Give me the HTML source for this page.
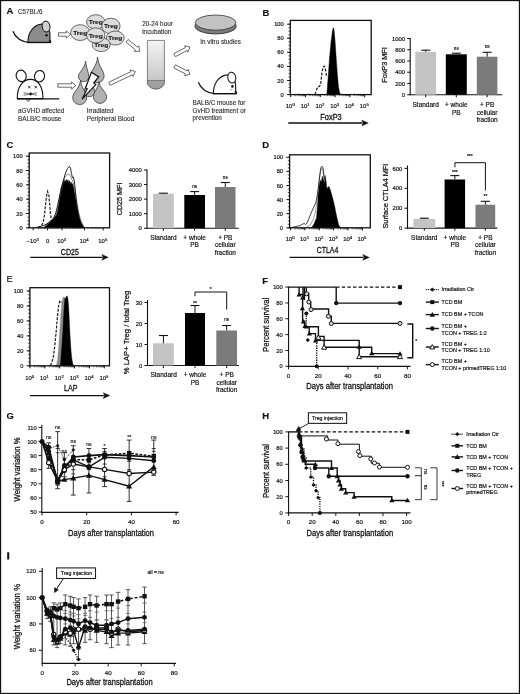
<!DOCTYPE html>
<html><head><meta charset="utf-8"><style>
html,body{margin:0;padding:0;background:#fff;}
svg{display:block;font-family:"Liberation Sans", sans-serif;will-change:transform;}
</style></head><body>
<svg width="520" height="694" viewBox="0 0 520 694" font-family='"Liberation Sans", sans-serif'>
<rect x="0" y="0" width="520" height="694" fill="#fff"/>
<g transform="translate(6.60,14.20) scale(0.97,1)"><text x="0" y="0" font-size="9.8" font-weight="bold" fill="#111" stroke="#111" stroke-width="0.15">A</text></g>
<text x="18.00" y="14.00" font-size="6.4" text-anchor="start" fill="#2e2e2e" stroke="#2e2e2e" stroke-width="0.12" textLength="24.5" lengthAdjust="spacingAndGlyphs" >C57BL/6</text>
<path d="M12.9,31.3 C15,36.5 19,41.5 29.5,42.6" fill="none" stroke="#111" stroke-width="1.3" />
<path d="M28.0,42.4 C27.8,33 33,25.5 40.5,24.2 C45.5,23.6 49.6,27.5 49.9,33 L50.0,42.4 Z" fill="#8c8c8c" stroke="#111" stroke-width="1.1" />
<ellipse cx="46.1" cy="26.6" rx="3.9" ry="5.4" fill="#d0d0d0" stroke="#111" stroke-width="1.0" transform="rotate(-10 46.1 26.6)"/>
<circle cx="46.5" cy="35.2" r="1.3" fill="#111"/>
<path d="M49.2,40.2 L51.2,41.2 L50.2,43.0 Z" fill="#111" stroke="#111" stroke-width="0.7" />
<line x1="27.60" y1="42.60" x2="51.00" y2="42.60" stroke="#111" stroke-width="1.1" stroke-linecap="butt"/>
<path d="M58.50,36.20 L66.30,36.20 L66.30,38.10 L70.50,34.50 L66.30,30.90 L66.30,32.80 L58.50,32.80 Z" fill="#fff" stroke="#444" stroke-width="0.8" />
<path d="M57.80,87.20 L71.60,87.20 L71.60,89.10 L75.80,85.50 L71.60,81.90 L71.60,83.80 L57.80,83.80 Z" fill="#fff" stroke="#444" stroke-width="0.8" />
<path d="M125.93,42.12 L135.47,49.87 L134.27,51.35 L139.80,51.20 L138.81,45.76 L137.61,47.23 L128.07,39.48 Z" fill="#fff" stroke="#444" stroke-width="0.8" />
<path d="M110.23,85.33 L132.35,74.75 L133.17,76.46 L135.40,71.40 L130.06,69.97 L130.88,71.68 L108.77,82.27 Z" fill="#fff" stroke="#444" stroke-width="0.8" />
<path d="M175.40,56.70 L187.09,50.47 L187.98,52.15 L190.00,47.00 L184.60,45.80 L185.49,47.47 L173.80,53.70 Z" fill="#fff" stroke="#444" stroke-width="0.8" />
<path d="M173.81,67.80 L185.49,73.95 L184.61,75.63 L190.00,74.40 L187.96,69.26 L187.07,70.94 L175.39,64.80 Z" fill="#fff" stroke="#444" stroke-width="0.8" />
<ellipse cx="80.2" cy="32.6" rx="9.6" ry="7.9" fill="#dcdcdc" stroke="#444" stroke-width="0.8"/>
<text x="80.20" y="34.70" font-size="6.0" text-anchor="middle" fill="#222" stroke="#222" stroke-width="0.18" font-weight="bold" textLength="14" lengthAdjust="spacingAndGlyphs" >Treg</text>
<ellipse cx="95.8" cy="21.9" rx="9.2" ry="7.2" fill="#dcdcdc" stroke="#444" stroke-width="0.8"/>
<text x="95.80" y="24.00" font-size="6.0" text-anchor="middle" fill="#222" stroke="#222" stroke-width="0.18" font-weight="bold" textLength="14" lengthAdjust="spacingAndGlyphs" >Treg</text>
<ellipse cx="110.9" cy="26.0" rx="9.2" ry="7.8" fill="#dcdcdc" stroke="#444" stroke-width="0.8"/>
<text x="110.90" y="28.10" font-size="6.0" text-anchor="middle" fill="#222" stroke="#222" stroke-width="0.18" font-weight="bold" textLength="14" lengthAdjust="spacingAndGlyphs" >Treg</text>
<ellipse cx="115.3" cy="38.0" rx="9.0" ry="7.0" fill="#dcdcdc" stroke="#444" stroke-width="0.8"/>
<text x="115.30" y="40.10" font-size="6.0" text-anchor="middle" fill="#222" stroke="#222" stroke-width="0.18" font-weight="bold" textLength="14" lengthAdjust="spacingAndGlyphs" >Treg</text>
<ellipse cx="101.2" cy="44.6" rx="9.0" ry="7.0" fill="#dcdcdc" stroke="#444" stroke-width="0.8"/>
<text x="101.20" y="46.70" font-size="6.0" text-anchor="middle" fill="#222" stroke="#222" stroke-width="0.18" font-weight="bold" textLength="14" lengthAdjust="spacingAndGlyphs" >Treg</text>
<ellipse cx="95.7" cy="35.4" rx="9.2" ry="7.6" fill="#dcdcdc" stroke="#444" stroke-width="0.8"/>
<text x="95.70" y="37.50" font-size="6.0" text-anchor="middle" fill="#222" stroke="#222" stroke-width="0.18" font-weight="bold" textLength="14" lengthAdjust="spacingAndGlyphs" >Treg</text>
<path d="M89.50,76.00 C89.90,82.97 94.70,87.60 94.70,91.50 A5.20,5.20 0 0 1 84.30,91.50 C84.30,87.60 89.10,82.97 89.50,76.00 Z" fill="#b2b2b2" stroke="#3a3a3a" stroke-width="0.8" />
<path d="M85.60,61.00 C86.00,67.97 88.80,72.60 88.80,76.50 A5.20,5.20 0 0 1 78.40,76.50 C78.40,72.60 85.20,67.97 85.60,61.00 Z" fill="#b2b2b2" stroke="#3a3a3a" stroke-width="0.8" />
<path d="M97.60,57.10 C98.00,65.61 104.10,70.90 104.10,76.00 A6.80,6.80 0 0 1 90.50,76.00 C90.50,70.90 97.20,65.61 97.60,57.10 Z" fill="#b2b2b2" stroke="#3a3a3a" stroke-width="0.8" />
<path d="M80.60,80.00 C81.00,87.92 86.70,92.35 86.70,97.60 A7.00,7.00 0 0 1 72.70,97.60 C72.70,92.35 80.20,87.92 80.60,80.00 Z" fill="#b2b2b2" stroke="#3a3a3a" stroke-width="0.8" />
<path d="M99.00,81.50 C99.40,88.39 106.60,91.85 106.60,96.80 A6.60,6.60 0 0 1 93.40,96.80 C93.40,91.85 98.60,88.39 99.00,81.50 Z" fill="#b2b2b2" stroke="#3a3a3a" stroke-width="0.8" />
<path d="M91.4,72.3 L98.8,77.0 L93.6,83.0 L95.8,84.6 L82.1,99.2 L87.2,88.8 L85.4,88.2 Z" fill="#fff" stroke="#111" stroke-width="1.2" stroke-linejoin="miter"/>
<ellipse cx="21.2" cy="75.9" rx="5.0" ry="5.8" fill="#fff" stroke="#111" stroke-width="1.1" transform="rotate(-15 21.2 75.9)"/>
<ellipse cx="39.5" cy="76.2" rx="5.0" ry="5.8" fill="#fff" stroke="#111" stroke-width="1.1" transform="rotate(15 39.5 76.2)"/>
<path d="M17.3,98.6 C17.0,87 23,79.4 30.5,79.4 C38,79.4 43.2,87 42.9,98.6 Z" fill="#fff" stroke="#111" stroke-width="1.1" />
<line x1="17.00" y1="98.80" x2="59.20" y2="98.80" stroke="#111" stroke-width="1.2" stroke-linecap="butt"/>
<line x1="28.10" y1="85.90" x2="30.50" y2="88.30" stroke="#111" stroke-width="0.8" stroke-linecap="butt"/>
<line x1="30.50" y1="85.90" x2="28.10" y2="88.30" stroke="#111" stroke-width="0.8" stroke-linecap="butt"/>
<line x1="34.60" y1="85.90" x2="37.00" y2="88.30" stroke="#111" stroke-width="0.8" stroke-linecap="butt"/>
<line x1="37.00" y1="85.90" x2="34.60" y2="88.30" stroke="#111" stroke-width="0.8" stroke-linecap="butt"/>
<circle cx="30.6" cy="94.0" r="1.4" fill="#111"/>
<line x1="23.50" y1="92.40" x2="29.40" y2="94.00" stroke="#333" stroke-width="0.5" stroke-linecap="butt"/>
<line x1="31.80" y1="94.00" x2="36.80" y2="92.40" stroke="#333" stroke-width="0.5" stroke-linecap="butt"/>
<line x1="23.50" y1="94.00" x2="29.40" y2="94.00" stroke="#333" stroke-width="0.5" stroke-linecap="butt"/>
<line x1="31.80" y1="94.00" x2="36.80" y2="94.00" stroke="#333" stroke-width="0.5" stroke-linecap="butt"/>
<line x1="23.50" y1="95.60" x2="29.40" y2="94.00" stroke="#333" stroke-width="0.5" stroke-linecap="butt"/>
<line x1="31.80" y1="94.00" x2="36.80" y2="95.60" stroke="#333" stroke-width="0.5" stroke-linecap="butt"/>
<path d="M26.6,99.2 C26.6,101.8 29.8,101.8 29.8,99.2" fill="none" stroke="#111" stroke-width="0.8" />
<text x="18.00" y="113.20" font-size="6.3" text-anchor="start" fill="#2e2e2e" stroke="#2e2e2e" stroke-width="0.12" textLength="46.4" lengthAdjust="spacingAndGlyphs" >aGVHD affected</text>
<text x="18.00" y="120.80" font-size="6.3" text-anchor="start" fill="#2e2e2e" stroke="#2e2e2e" stroke-width="0.12" textLength="43.4" lengthAdjust="spacingAndGlyphs" >BALB/C mouse</text>
<text x="86.70" y="113.20" font-size="6.3" text-anchor="start" fill="#2e2e2e" stroke="#2e2e2e" stroke-width="0.12" textLength="26.8" lengthAdjust="spacingAndGlyphs" >Irradiated</text>
<text x="86.70" y="120.80" font-size="6.3" text-anchor="start" fill="#2e2e2e" stroke="#2e2e2e" stroke-width="0.12" textLength="47.6" lengthAdjust="spacingAndGlyphs" >Peripheral Blood</text>
<defs><linearGradient id="tg" x1="0" y1="0" x2="0" y2="1"><stop offset="0" stop-color="#f4f4f4"/><stop offset="1" stop-color="#bdbdbd"/></linearGradient></defs>
<path d="M147.4,40.4 L164.4,40.4 L164.4,82 A8.5,7 0 0 1 147.4,82 Z" fill="url(#tg)" stroke="#555" stroke-width="0.7" />
<path d="M147.4,80.5 L164.4,80.5 L164.4,82 A8.5,7 0 0 1 147.4,82 Z" fill="#a0a0a0" stroke="#555" stroke-width="0.6" />
<text x="142.20" y="26.10" font-size="6.3" text-anchor="start" fill="#2e2e2e" stroke="#2e2e2e" stroke-width="0.12" textLength="30.6" lengthAdjust="spacingAndGlyphs" >20-24 hour</text>
<text x="142.20" y="33.50" font-size="6.3" text-anchor="start" fill="#2e2e2e" stroke="#2e2e2e" stroke-width="0.12" textLength="29.2" lengthAdjust="spacingAndGlyphs" >incubation</text>
<ellipse cx="215.6" cy="26.2" rx="20.6" ry="7.8" fill="#7a7a7a" stroke="#222" stroke-width="0.8"/>
<ellipse cx="215.6" cy="22.6" rx="20.3" ry="7.6" fill="#c2c2c2" stroke="#333" stroke-width="0.8"/>
<text x="200.20" y="43.60" font-size="6.3" text-anchor="start" fill="#2e2e2e" stroke="#2e2e2e" stroke-width="0.12" textLength="40.8" lengthAdjust="spacingAndGlyphs" >In vitro studies</text>
<path d="M198.3,82.3 C200.5,87.5 204.5,92.5 214.2,93.7" fill="none" stroke="#111" stroke-width="1.2" />
<path d="M213.4,93.6 C213.2,84 218.5,76.5 225.7,75.1 C231,74.3 235.2,78.5 235.5,84 L235.8,93.6 Z" fill="#fff" stroke="#111" stroke-width="1.1" />
<ellipse cx="231.8" cy="77.6" rx="4.0" ry="5.5" fill="#fff" stroke="#111" stroke-width="1.0" transform="rotate(-10 231.8 77.6)"/>
<circle cx="232.4" cy="86.4" r="1.3" fill="#111"/>
<path d="M235.0,91.0 L237.0,92.2 L235.8,94.0 Z" fill="#111" stroke="#111" stroke-width="0.7" />
<line x1="213.00" y1="93.70" x2="237.00" y2="93.70" stroke="#111" stroke-width="1.1" stroke-linecap="butt"/>
<line x1="230.00" y1="89.60" x2="232.50" y2="89.60" stroke="#555" stroke-width="0.5" stroke-linecap="butt"/>
<text x="192.60" y="105.40" font-size="6.3" text-anchor="start" fill="#2e2e2e" stroke="#2e2e2e" stroke-width="0.12" textLength="52.8" lengthAdjust="spacingAndGlyphs" >BALB/C mouse for</text>
<text x="192.60" y="112.80" font-size="6.3" text-anchor="start" fill="#2e2e2e" stroke="#2e2e2e" stroke-width="0.12" textLength="53.2" lengthAdjust="spacingAndGlyphs" >GvHD treatment or</text>
<text x="192.60" y="120.40" font-size="6.3" text-anchor="start" fill="#2e2e2e" stroke="#2e2e2e" stroke-width="0.12" textLength="29.2" lengthAdjust="spacingAndGlyphs" >prevention</text>
<g transform="translate(262.40,15.50) scale(0.97,1)"><text x="0" y="0" font-size="9.8" font-weight="bold" fill="#111" stroke="#111" stroke-width="0.15">B</text></g>
<path d="M315.00,94.40 L316.50,90.00 L317.60,87.20 L319.50,86.20 L320.60,84.50 L322.00,72.00 L323.20,67.00 L324.30,66.20 L325.20,68.00 L326.00,73.00 L326.80,77.00" fill="none" stroke="#1a1a1a" stroke-width="1.2" stroke-dasharray="2.8,1.4"/>
<path d="M326.80,94.50 L327.30,88.00 L328.30,75.00 L329.50,58.00 L331.00,42.00 L332.30,32.00 L333.20,27.60 L334.00,29.00 L335.00,40.00 L336.00,55.00 L337.20,72.00 L338.40,86.00 L339.60,92.50 L341.00,94.50 Z" fill="#000" stroke="#000" stroke-width="0.4" />
<line x1="287.10" y1="94.60" x2="290.30" y2="94.60" stroke="#111" stroke-width="1.0" stroke-linecap="butt"/>
<text x="283.70" y="96.65" font-size="5.7" text-anchor="end" fill="#111" stroke="#111" stroke-width="0.18" >0</text>
<line x1="287.10" y1="80.52" x2="290.30" y2="80.52" stroke="#111" stroke-width="1.0" stroke-linecap="butt"/>
<text x="283.70" y="82.57" font-size="5.7" text-anchor="end" fill="#111" stroke="#111" stroke-width="0.18" >20</text>
<line x1="287.10" y1="66.44" x2="290.30" y2="66.44" stroke="#111" stroke-width="1.0" stroke-linecap="butt"/>
<text x="283.70" y="68.49" font-size="5.7" text-anchor="end" fill="#111" stroke="#111" stroke-width="0.18" >40</text>
<line x1="287.10" y1="52.36" x2="290.30" y2="52.36" stroke="#111" stroke-width="1.0" stroke-linecap="butt"/>
<text x="283.70" y="54.41" font-size="5.7" text-anchor="end" fill="#111" stroke="#111" stroke-width="0.18" >60</text>
<line x1="287.10" y1="38.28" x2="290.30" y2="38.28" stroke="#111" stroke-width="1.0" stroke-linecap="butt"/>
<text x="283.70" y="40.33" font-size="5.7" text-anchor="end" fill="#111" stroke="#111" stroke-width="0.18" >80</text>
<line x1="287.10" y1="24.20" x2="290.30" y2="24.20" stroke="#111" stroke-width="1.0" stroke-linecap="butt"/>
<text x="283.70" y="26.25" font-size="5.7" text-anchor="end" fill="#111" stroke="#111" stroke-width="0.18" >100</text>
<line x1="288.50" y1="94.60" x2="290.30" y2="94.60" stroke="#111" stroke-width="0.7" stroke-linecap="butt"/>
<line x1="288.50" y1="91.08" x2="290.30" y2="91.08" stroke="#111" stroke-width="0.7" stroke-linecap="butt"/>
<line x1="288.50" y1="87.56" x2="290.30" y2="87.56" stroke="#111" stroke-width="0.7" stroke-linecap="butt"/>
<line x1="288.50" y1="84.04" x2="290.30" y2="84.04" stroke="#111" stroke-width="0.7" stroke-linecap="butt"/>
<line x1="288.50" y1="80.52" x2="290.30" y2="80.52" stroke="#111" stroke-width="0.7" stroke-linecap="butt"/>
<line x1="288.50" y1="77.00" x2="290.30" y2="77.00" stroke="#111" stroke-width="0.7" stroke-linecap="butt"/>
<line x1="288.50" y1="73.48" x2="290.30" y2="73.48" stroke="#111" stroke-width="0.7" stroke-linecap="butt"/>
<line x1="288.50" y1="69.96" x2="290.30" y2="69.96" stroke="#111" stroke-width="0.7" stroke-linecap="butt"/>
<line x1="288.50" y1="66.44" x2="290.30" y2="66.44" stroke="#111" stroke-width="0.7" stroke-linecap="butt"/>
<line x1="288.50" y1="62.92" x2="290.30" y2="62.92" stroke="#111" stroke-width="0.7" stroke-linecap="butt"/>
<line x1="288.50" y1="59.40" x2="290.30" y2="59.40" stroke="#111" stroke-width="0.7" stroke-linecap="butt"/>
<line x1="288.50" y1="55.88" x2="290.30" y2="55.88" stroke="#111" stroke-width="0.7" stroke-linecap="butt"/>
<line x1="288.50" y1="52.36" x2="290.30" y2="52.36" stroke="#111" stroke-width="0.7" stroke-linecap="butt"/>
<line x1="288.50" y1="48.84" x2="290.30" y2="48.84" stroke="#111" stroke-width="0.7" stroke-linecap="butt"/>
<line x1="288.50" y1="45.32" x2="290.30" y2="45.32" stroke="#111" stroke-width="0.7" stroke-linecap="butt"/>
<line x1="288.50" y1="41.80" x2="290.30" y2="41.80" stroke="#111" stroke-width="0.7" stroke-linecap="butt"/>
<line x1="288.50" y1="38.28" x2="290.30" y2="38.28" stroke="#111" stroke-width="0.7" stroke-linecap="butt"/>
<line x1="288.50" y1="34.76" x2="290.30" y2="34.76" stroke="#111" stroke-width="0.7" stroke-linecap="butt"/>
<line x1="288.50" y1="31.24" x2="290.30" y2="31.24" stroke="#111" stroke-width="0.7" stroke-linecap="butt"/>
<line x1="288.50" y1="27.72" x2="290.30" y2="27.72" stroke="#111" stroke-width="0.7" stroke-linecap="butt"/>
<line x1="288.50" y1="24.20" x2="290.30" y2="24.20" stroke="#111" stroke-width="0.7" stroke-linecap="butt"/>
<rect x="290.30" y="20.40" width="80.90" height="74.20" fill="none" stroke="#111" stroke-width="1.3"/>
<line x1="290.70" y1="94.60" x2="290.70" y2="97.20" stroke="#111" stroke-width="1.0" stroke-linecap="butt"/>
<text x="290.30" y="108.40" font-size="5.9" text-anchor="middle" fill="#111" stroke="#111" stroke-width="0.18">10<tspan font-size="4.25" dy="-2.2">0</tspan></text>
<line x1="305.50" y1="94.60" x2="305.50" y2="97.20" stroke="#111" stroke-width="1.0" stroke-linecap="butt"/>
<text x="305.10" y="108.40" font-size="5.9" text-anchor="middle" fill="#111" stroke="#111" stroke-width="0.18">10<tspan font-size="4.25" dy="-2.2">1</tspan></text>
<line x1="320.30" y1="94.60" x2="320.30" y2="97.20" stroke="#111" stroke-width="1.0" stroke-linecap="butt"/>
<text x="319.90" y="108.40" font-size="5.9" text-anchor="middle" fill="#111" stroke="#111" stroke-width="0.18">10<tspan font-size="4.25" dy="-2.2">2</tspan></text>
<line x1="335.10" y1="94.60" x2="335.10" y2="97.20" stroke="#111" stroke-width="1.0" stroke-linecap="butt"/>
<text x="334.70" y="108.40" font-size="5.9" text-anchor="middle" fill="#111" stroke="#111" stroke-width="0.18">10<tspan font-size="4.25" dy="-2.2">3</tspan></text>
<line x1="349.90" y1="94.60" x2="349.90" y2="97.20" stroke="#111" stroke-width="1.0" stroke-linecap="butt"/>
<text x="349.50" y="108.40" font-size="5.9" text-anchor="middle" fill="#111" stroke="#111" stroke-width="0.18">10<tspan font-size="4.25" dy="-2.2">4</tspan></text>
<line x1="364.70" y1="94.60" x2="364.70" y2="97.20" stroke="#111" stroke-width="1.0" stroke-linecap="butt"/>
<text x="364.30" y="108.40" font-size="5.9" text-anchor="middle" fill="#111" stroke="#111" stroke-width="0.18">10<tspan font-size="4.25" dy="-2.2">5</tspan></text>
<line x1="295.16" y1="94.60" x2="295.16" y2="96.20" stroke="#111" stroke-width="0.6" stroke-linecap="butt"/>
<line x1="297.76" y1="94.60" x2="297.76" y2="96.20" stroke="#111" stroke-width="0.6" stroke-linecap="butt"/>
<line x1="299.61" y1="94.60" x2="299.61" y2="96.20" stroke="#111" stroke-width="0.6" stroke-linecap="butt"/>
<line x1="301.04" y1="94.60" x2="301.04" y2="96.20" stroke="#111" stroke-width="0.6" stroke-linecap="butt"/>
<line x1="302.22" y1="94.60" x2="302.22" y2="96.20" stroke="#111" stroke-width="0.6" stroke-linecap="butt"/>
<line x1="303.21" y1="94.60" x2="303.21" y2="96.20" stroke="#111" stroke-width="0.6" stroke-linecap="butt"/>
<line x1="304.07" y1="94.60" x2="304.07" y2="96.20" stroke="#111" stroke-width="0.6" stroke-linecap="butt"/>
<line x1="304.82" y1="94.60" x2="304.82" y2="96.20" stroke="#111" stroke-width="0.6" stroke-linecap="butt"/>
<line x1="309.96" y1="94.60" x2="309.96" y2="96.20" stroke="#111" stroke-width="0.6" stroke-linecap="butt"/>
<line x1="312.56" y1="94.60" x2="312.56" y2="96.20" stroke="#111" stroke-width="0.6" stroke-linecap="butt"/>
<line x1="314.41" y1="94.60" x2="314.41" y2="96.20" stroke="#111" stroke-width="0.6" stroke-linecap="butt"/>
<line x1="315.84" y1="94.60" x2="315.84" y2="96.20" stroke="#111" stroke-width="0.6" stroke-linecap="butt"/>
<line x1="317.02" y1="94.60" x2="317.02" y2="96.20" stroke="#111" stroke-width="0.6" stroke-linecap="butt"/>
<line x1="318.01" y1="94.60" x2="318.01" y2="96.20" stroke="#111" stroke-width="0.6" stroke-linecap="butt"/>
<line x1="318.87" y1="94.60" x2="318.87" y2="96.20" stroke="#111" stroke-width="0.6" stroke-linecap="butt"/>
<line x1="319.62" y1="94.60" x2="319.62" y2="96.20" stroke="#111" stroke-width="0.6" stroke-linecap="butt"/>
<line x1="324.76" y1="94.60" x2="324.76" y2="96.20" stroke="#111" stroke-width="0.6" stroke-linecap="butt"/>
<line x1="327.36" y1="94.60" x2="327.36" y2="96.20" stroke="#111" stroke-width="0.6" stroke-linecap="butt"/>
<line x1="329.21" y1="94.60" x2="329.21" y2="96.20" stroke="#111" stroke-width="0.6" stroke-linecap="butt"/>
<line x1="330.64" y1="94.60" x2="330.64" y2="96.20" stroke="#111" stroke-width="0.6" stroke-linecap="butt"/>
<line x1="331.82" y1="94.60" x2="331.82" y2="96.20" stroke="#111" stroke-width="0.6" stroke-linecap="butt"/>
<line x1="332.81" y1="94.60" x2="332.81" y2="96.20" stroke="#111" stroke-width="0.6" stroke-linecap="butt"/>
<line x1="333.67" y1="94.60" x2="333.67" y2="96.20" stroke="#111" stroke-width="0.6" stroke-linecap="butt"/>
<line x1="334.42" y1="94.60" x2="334.42" y2="96.20" stroke="#111" stroke-width="0.6" stroke-linecap="butt"/>
<line x1="339.56" y1="94.60" x2="339.56" y2="96.20" stroke="#111" stroke-width="0.6" stroke-linecap="butt"/>
<line x1="342.16" y1="94.60" x2="342.16" y2="96.20" stroke="#111" stroke-width="0.6" stroke-linecap="butt"/>
<line x1="344.01" y1="94.60" x2="344.01" y2="96.20" stroke="#111" stroke-width="0.6" stroke-linecap="butt"/>
<line x1="345.44" y1="94.60" x2="345.44" y2="96.20" stroke="#111" stroke-width="0.6" stroke-linecap="butt"/>
<line x1="346.62" y1="94.60" x2="346.62" y2="96.20" stroke="#111" stroke-width="0.6" stroke-linecap="butt"/>
<line x1="347.61" y1="94.60" x2="347.61" y2="96.20" stroke="#111" stroke-width="0.6" stroke-linecap="butt"/>
<line x1="348.47" y1="94.60" x2="348.47" y2="96.20" stroke="#111" stroke-width="0.6" stroke-linecap="butt"/>
<line x1="349.22" y1="94.60" x2="349.22" y2="96.20" stroke="#111" stroke-width="0.6" stroke-linecap="butt"/>
<line x1="354.36" y1="94.60" x2="354.36" y2="96.20" stroke="#111" stroke-width="0.6" stroke-linecap="butt"/>
<line x1="356.96" y1="94.60" x2="356.96" y2="96.20" stroke="#111" stroke-width="0.6" stroke-linecap="butt"/>
<line x1="358.81" y1="94.60" x2="358.81" y2="96.20" stroke="#111" stroke-width="0.6" stroke-linecap="butt"/>
<line x1="360.24" y1="94.60" x2="360.24" y2="96.20" stroke="#111" stroke-width="0.6" stroke-linecap="butt"/>
<line x1="361.42" y1="94.60" x2="361.42" y2="96.20" stroke="#111" stroke-width="0.6" stroke-linecap="butt"/>
<line x1="362.41" y1="94.60" x2="362.41" y2="96.20" stroke="#111" stroke-width="0.6" stroke-linecap="butt"/>
<line x1="363.27" y1="94.60" x2="363.27" y2="96.20" stroke="#111" stroke-width="0.6" stroke-linecap="butt"/>
<line x1="364.02" y1="94.60" x2="364.02" y2="96.20" stroke="#111" stroke-width="0.6" stroke-linecap="butt"/>
<text x="331.00" y="119.60" font-size="8.2" text-anchor="middle" fill="#111" stroke="#111" stroke-width="0.26" textLength="21.5" lengthAdjust="spacingAndGlyphs" >FoxP3</text>
<line x1="288.30" y1="123.00" x2="362.30" y2="123.00" stroke="#111" stroke-width="1.3" stroke-linecap="butt"/>
<path d="M368.30,123.00 L361.80,120.10 L363.00,123.00 L361.80,125.90 Z" fill="#111" stroke="#111" stroke-width="0.4" />
<line x1="410.20" y1="38.00" x2="410.20" y2="95.20" stroke="#111" stroke-width="1.1" stroke-linecap="butt"/>
<line x1="409.70" y1="94.70" x2="502.20" y2="94.70" stroke="#111" stroke-width="1.1" stroke-linecap="butt"/>
<line x1="407.20" y1="94.70" x2="410.20" y2="94.70" stroke="#111" stroke-width="1.0" stroke-linecap="butt"/>
<text x="405.00" y="96.80" font-size="5.9" text-anchor="end" fill="#111" stroke="#111" stroke-width="0.18" >0</text>
<line x1="407.20" y1="83.46" x2="410.20" y2="83.46" stroke="#111" stroke-width="1.0" stroke-linecap="butt"/>
<text x="405.00" y="85.56" font-size="5.9" text-anchor="end" fill="#111" stroke="#111" stroke-width="0.18" >200</text>
<line x1="407.20" y1="72.22" x2="410.20" y2="72.22" stroke="#111" stroke-width="1.0" stroke-linecap="butt"/>
<text x="405.00" y="74.32" font-size="5.9" text-anchor="end" fill="#111" stroke="#111" stroke-width="0.18" >400</text>
<line x1="407.20" y1="60.98" x2="410.20" y2="60.98" stroke="#111" stroke-width="1.0" stroke-linecap="butt"/>
<text x="405.00" y="63.08" font-size="5.9" text-anchor="end" fill="#111" stroke="#111" stroke-width="0.18" >600</text>
<line x1="407.20" y1="49.74" x2="410.20" y2="49.74" stroke="#111" stroke-width="1.0" stroke-linecap="butt"/>
<text x="405.00" y="51.84" font-size="5.9" text-anchor="end" fill="#111" stroke="#111" stroke-width="0.18" >800</text>
<line x1="407.20" y1="38.50" x2="410.20" y2="38.50" stroke="#111" stroke-width="1.0" stroke-linecap="butt"/>
<text x="405.00" y="40.60" font-size="5.9" text-anchor="end" fill="#111" stroke="#111" stroke-width="0.18" >1000</text>
<rect x="415.30" y="51.90" width="20.80" height="42.80" fill="#c4c4c4" stroke="none" stroke-width="1"/>
<line x1="425.70" y1="51.90" x2="425.70" y2="50.20" stroke="#111" stroke-width="1.0" stroke-linecap="butt"/>
<line x1="421.20" y1="50.20" x2="430.20" y2="50.20" stroke="#111" stroke-width="1.1" stroke-linecap="butt"/>
<line x1="425.70" y1="94.70" x2="425.70" y2="97.30" stroke="#111" stroke-width="1.0" stroke-linecap="butt"/>
<rect x="445.80" y="54.30" width="21.00" height="40.40" fill="#000" stroke="none" stroke-width="1"/>
<line x1="456.30" y1="54.30" x2="456.30" y2="53.20" stroke="#111" stroke-width="1.0" stroke-linecap="butt"/>
<line x1="451.80" y1="53.20" x2="460.80" y2="53.20" stroke="#111" stroke-width="1.1" stroke-linecap="butt"/>
<line x1="456.30" y1="94.70" x2="456.30" y2="97.30" stroke="#111" stroke-width="1.0" stroke-linecap="butt"/>
<rect x="476.80" y="56.70" width="20.60" height="38.00" fill="#7b7b7b" stroke="none" stroke-width="1"/>
<line x1="487.10" y1="56.70" x2="487.10" y2="52.30" stroke="#111" stroke-width="1.0" stroke-linecap="butt"/>
<line x1="482.60" y1="52.30" x2="491.60" y2="52.30" stroke="#111" stroke-width="1.1" stroke-linecap="butt"/>
<line x1="487.10" y1="94.70" x2="487.10" y2="97.30" stroke="#111" stroke-width="1.0" stroke-linecap="butt"/>
<text x="425.70" y="106.80" font-size="6.5" text-anchor="middle" fill="#111" stroke="#111" stroke-width="0.18" >Standard</text>
<text x="456.30" y="106.80" font-size="6.5" text-anchor="middle" fill="#111" stroke="#111" stroke-width="0.18" >+ whole</text>
<text x="456.30" y="114.50" font-size="6.5" text-anchor="middle" fill="#111" stroke="#111" stroke-width="0.18" >PB</text>
<text x="487.10" y="106.80" font-size="6.5" text-anchor="middle" fill="#111" stroke="#111" stroke-width="0.18" >+ PB</text>
<text x="487.10" y="114.50" font-size="6.5" text-anchor="middle" fill="#111" stroke="#111" stroke-width="0.18" >cellular</text>
<text x="487.10" y="122.00" font-size="6.5" text-anchor="middle" fill="#111" stroke="#111" stroke-width="0.18" >fraction</text>
<text x="386.90" y="65.00" font-size="8.0" text-anchor="middle" fill="#111" stroke="#111" stroke-width="0.26" textLength="35.5" lengthAdjust="spacingAndGlyphs" transform="rotate(-90 386.90 65.00)" >FoxP3 MFI</text>
<text x="456.30" y="49.60" font-size="4.6" text-anchor="middle" fill="#111" stroke="#111" stroke-width="0.18" >ns</text>
<text x="487.10" y="47.60" font-size="4.6" text-anchor="middle" fill="#111" stroke="#111" stroke-width="0.18" >ns</text>
<g transform="translate(6.60,147.70) scale(0.97,1)"><text x="0" y="0" font-size="9.8" font-weight="bold" fill="#111" stroke="#111" stroke-width="0.15">C</text></g>
<path d="M43.50,227.80 L45.00,226.20 L48.00,223.50 L51.30,220.00 L54.00,217.50 L56.30,215.00 L57.50,210.00 L58.80,202.50 L60.00,194.00 L60.80,188.50 L61.60,186.00 L62.40,183.50 L63.20,180.50 L64.00,182.50 L64.80,179.80 L65.60,182.00 L66.40,179.20 L67.20,181.50 L68.00,179.80 L68.80,182.50 L69.60,180.50 L70.40,183.50 L71.20,182.00 L72.00,185.00 L72.80,183.50 L73.60,187.00 L74.60,192.00 L75.60,198.00 L76.60,204.00 L77.80,210.00 L79.20,216.00 L80.80,221.50 L82.80,225.80 L85.00,227.80 Z" fill="#000" stroke="#000" stroke-width="0.4" />
<path d="M45.00,226.00 L50.00,222.00 L54.00,218.00 L57.00,211.00 L59.00,200.00 L61.00,190.00 L63.00,182.00 L65.00,177.00 L67.00,174.50 L69.00,174.00 L71.00,177.00 L73.00,182.00 L74.50,188.00 L76.00,197.00 L77.50,206.00 L79.00,214.00 L81.00,221.00 L84.00,227.00" fill="none" stroke="#888" stroke-width="0.9" />
<path d="M36.00,227.60 L40.00,226.80 L44.00,225.30 L48.00,223.20 L51.00,221.00 L53.50,218.20 L55.50,214.00 L57.50,206.00 L59.50,197.00 L61.50,188.00 L63.50,180.00 L65.50,173.00 L67.50,168.50 L69.30,166.30 L70.50,168.00 L71.50,173.50 L72.40,177.50 L73.30,177.00 L74.30,181.00 L75.30,190.00 L76.30,200.00 L77.50,209.00 L79.00,217.00 L81.00,223.50 L84.00,227.50" fill="none" stroke="#111" stroke-width="0.9" />
<path d="M38.00,227.60 L41.00,226.00 L43.00,223.00 L44.50,215.00 L45.50,205.00 L46.50,196.00 L47.60,191.50 L48.80,195.00 L49.60,203.00 L50.30,212.00 L51.00,218.00" fill="none" stroke="#1a1a1a" stroke-width="1.2" stroke-dasharray="2.8,1.4"/>
<line x1="26.00" y1="227.80" x2="29.20" y2="227.80" stroke="#111" stroke-width="1.0" stroke-linecap="butt"/>
<text x="22.60" y="229.85" font-size="5.7" text-anchor="end" fill="#111" stroke="#111" stroke-width="0.18" >0</text>
<line x1="26.00" y1="213.48" x2="29.20" y2="213.48" stroke="#111" stroke-width="1.0" stroke-linecap="butt"/>
<text x="22.60" y="215.53" font-size="5.7" text-anchor="end" fill="#111" stroke="#111" stroke-width="0.18" >20</text>
<line x1="26.00" y1="199.16" x2="29.20" y2="199.16" stroke="#111" stroke-width="1.0" stroke-linecap="butt"/>
<text x="22.60" y="201.21" font-size="5.7" text-anchor="end" fill="#111" stroke="#111" stroke-width="0.18" >40</text>
<line x1="26.00" y1="184.84" x2="29.20" y2="184.84" stroke="#111" stroke-width="1.0" stroke-linecap="butt"/>
<text x="22.60" y="186.89" font-size="5.7" text-anchor="end" fill="#111" stroke="#111" stroke-width="0.18" >60</text>
<line x1="26.00" y1="170.52" x2="29.20" y2="170.52" stroke="#111" stroke-width="1.0" stroke-linecap="butt"/>
<text x="22.60" y="172.57" font-size="5.7" text-anchor="end" fill="#111" stroke="#111" stroke-width="0.18" >80</text>
<line x1="26.00" y1="156.20" x2="29.20" y2="156.20" stroke="#111" stroke-width="1.0" stroke-linecap="butt"/>
<text x="22.60" y="158.25" font-size="5.7" text-anchor="end" fill="#111" stroke="#111" stroke-width="0.18" >100</text>
<line x1="27.40" y1="227.80" x2="29.20" y2="227.80" stroke="#111" stroke-width="0.7" stroke-linecap="butt"/>
<line x1="27.40" y1="224.22" x2="29.20" y2="224.22" stroke="#111" stroke-width="0.7" stroke-linecap="butt"/>
<line x1="27.40" y1="220.64" x2="29.20" y2="220.64" stroke="#111" stroke-width="0.7" stroke-linecap="butt"/>
<line x1="27.40" y1="217.06" x2="29.20" y2="217.06" stroke="#111" stroke-width="0.7" stroke-linecap="butt"/>
<line x1="27.40" y1="213.48" x2="29.20" y2="213.48" stroke="#111" stroke-width="0.7" stroke-linecap="butt"/>
<line x1="27.40" y1="209.90" x2="29.20" y2="209.90" stroke="#111" stroke-width="0.7" stroke-linecap="butt"/>
<line x1="27.40" y1="206.32" x2="29.20" y2="206.32" stroke="#111" stroke-width="0.7" stroke-linecap="butt"/>
<line x1="27.40" y1="202.74" x2="29.20" y2="202.74" stroke="#111" stroke-width="0.7" stroke-linecap="butt"/>
<line x1="27.40" y1="199.16" x2="29.20" y2="199.16" stroke="#111" stroke-width="0.7" stroke-linecap="butt"/>
<line x1="27.40" y1="195.58" x2="29.20" y2="195.58" stroke="#111" stroke-width="0.7" stroke-linecap="butt"/>
<line x1="27.40" y1="192.00" x2="29.20" y2="192.00" stroke="#111" stroke-width="0.7" stroke-linecap="butt"/>
<line x1="27.40" y1="188.42" x2="29.20" y2="188.42" stroke="#111" stroke-width="0.7" stroke-linecap="butt"/>
<line x1="27.40" y1="184.84" x2="29.20" y2="184.84" stroke="#111" stroke-width="0.7" stroke-linecap="butt"/>
<line x1="27.40" y1="181.26" x2="29.20" y2="181.26" stroke="#111" stroke-width="0.7" stroke-linecap="butt"/>
<line x1="27.40" y1="177.68" x2="29.20" y2="177.68" stroke="#111" stroke-width="0.7" stroke-linecap="butt"/>
<line x1="27.40" y1="174.10" x2="29.20" y2="174.10" stroke="#111" stroke-width="0.7" stroke-linecap="butt"/>
<line x1="27.40" y1="170.52" x2="29.20" y2="170.52" stroke="#111" stroke-width="0.7" stroke-linecap="butt"/>
<line x1="27.40" y1="166.94" x2="29.20" y2="166.94" stroke="#111" stroke-width="0.7" stroke-linecap="butt"/>
<line x1="27.40" y1="163.36" x2="29.20" y2="163.36" stroke="#111" stroke-width="0.7" stroke-linecap="butt"/>
<line x1="27.40" y1="159.78" x2="29.20" y2="159.78" stroke="#111" stroke-width="0.7" stroke-linecap="butt"/>
<line x1="27.40" y1="156.20" x2="29.20" y2="156.20" stroke="#111" stroke-width="0.7" stroke-linecap="butt"/>
<rect x="29.20" y="153.00" width="80.40" height="74.80" fill="none" stroke="#111" stroke-width="1.3"/>
<line x1="33.20" y1="227.80" x2="33.20" y2="230.40" stroke="#111" stroke-width="1.0" stroke-linecap="butt"/>
<text x="32.80" y="242.70" font-size="5.9" text-anchor="middle" fill="#111" stroke="#111" stroke-width="0.18">−10<tspan font-size="4.25" dy="-2.2">3</tspan></text>
<line x1="47.60" y1="227.80" x2="47.60" y2="230.40" stroke="#111" stroke-width="1.0" stroke-linecap="butt"/>
<text x="47.60" y="242.70" font-size="5.9" text-anchor="middle" fill="#111" stroke="#111" stroke-width="0.18" >0</text>
<line x1="62.00" y1="227.80" x2="62.00" y2="230.40" stroke="#111" stroke-width="1.0" stroke-linecap="butt"/>
<text x="61.60" y="242.70" font-size="5.9" text-anchor="middle" fill="#111" stroke="#111" stroke-width="0.18">10<tspan font-size="4.25" dy="-2.2">3</tspan></text>
<line x1="84.50" y1="227.80" x2="84.50" y2="230.40" stroke="#111" stroke-width="1.0" stroke-linecap="butt"/>
<text x="84.10" y="242.70" font-size="5.9" text-anchor="middle" fill="#111" stroke="#111" stroke-width="0.18">10<tspan font-size="4.25" dy="-2.2">4</tspan></text>
<line x1="103.20" y1="227.80" x2="103.20" y2="230.40" stroke="#111" stroke-width="1.0" stroke-linecap="butt"/>
<text x="102.80" y="242.70" font-size="5.9" text-anchor="middle" fill="#111" stroke="#111" stroke-width="0.18">10<tspan font-size="4.25" dy="-2.2">5</tspan></text>
<line x1="38.50" y1="227.80" x2="38.50" y2="229.00" stroke="#111" stroke-width="0.5" stroke-linecap="butt"/>
<line x1="41.00" y1="227.80" x2="41.00" y2="229.00" stroke="#111" stroke-width="0.5" stroke-linecap="butt"/>
<line x1="43.00" y1="227.80" x2="43.00" y2="229.00" stroke="#111" stroke-width="0.5" stroke-linecap="butt"/>
<line x1="45.00" y1="227.80" x2="45.00" y2="229.00" stroke="#111" stroke-width="0.5" stroke-linecap="butt"/>
<line x1="50.00" y1="227.80" x2="50.00" y2="229.00" stroke="#111" stroke-width="0.5" stroke-linecap="butt"/>
<line x1="52.00" y1="227.80" x2="52.00" y2="229.00" stroke="#111" stroke-width="0.5" stroke-linecap="butt"/>
<line x1="54.00" y1="227.80" x2="54.00" y2="229.00" stroke="#111" stroke-width="0.5" stroke-linecap="butt"/>
<line x1="56.00" y1="227.80" x2="56.00" y2="229.00" stroke="#111" stroke-width="0.5" stroke-linecap="butt"/>
<line x1="58.00" y1="227.80" x2="58.00" y2="229.00" stroke="#111" stroke-width="0.5" stroke-linecap="butt"/>
<line x1="66.00" y1="227.80" x2="66.00" y2="229.00" stroke="#111" stroke-width="0.5" stroke-linecap="butt"/>
<line x1="70.00" y1="227.80" x2="70.00" y2="229.00" stroke="#111" stroke-width="0.5" stroke-linecap="butt"/>
<line x1="73.00" y1="227.80" x2="73.00" y2="229.00" stroke="#111" stroke-width="0.5" stroke-linecap="butt"/>
<line x1="75.00" y1="227.80" x2="75.00" y2="229.00" stroke="#111" stroke-width="0.5" stroke-linecap="butt"/>
<line x1="77.00" y1="227.80" x2="77.00" y2="229.00" stroke="#111" stroke-width="0.5" stroke-linecap="butt"/>
<line x1="79.00" y1="227.80" x2="79.00" y2="229.00" stroke="#111" stroke-width="0.5" stroke-linecap="butt"/>
<line x1="81.00" y1="227.80" x2="81.00" y2="229.00" stroke="#111" stroke-width="0.5" stroke-linecap="butt"/>
<line x1="88.00" y1="227.80" x2="88.00" y2="229.00" stroke="#111" stroke-width="0.5" stroke-linecap="butt"/>
<line x1="92.00" y1="227.80" x2="92.00" y2="229.00" stroke="#111" stroke-width="0.5" stroke-linecap="butt"/>
<line x1="95.00" y1="227.80" x2="95.00" y2="229.00" stroke="#111" stroke-width="0.5" stroke-linecap="butt"/>
<line x1="97.00" y1="227.80" x2="97.00" y2="229.00" stroke="#111" stroke-width="0.5" stroke-linecap="butt"/>
<line x1="99.00" y1="227.80" x2="99.00" y2="229.00" stroke="#111" stroke-width="0.5" stroke-linecap="butt"/>
<line x1="101.00" y1="227.80" x2="101.00" y2="229.00" stroke="#111" stroke-width="0.5" stroke-linecap="butt"/>
<text x="69.80" y="254.80" font-size="8.2" text-anchor="middle" fill="#111" stroke="#111" stroke-width="0.26" textLength="18" lengthAdjust="spacingAndGlyphs" >CD25</text>
<line x1="30.20" y1="257.30" x2="102.30" y2="257.30" stroke="#111" stroke-width="1.3" stroke-linecap="butt"/>
<path d="M108.30,257.30 L101.80,254.40 L103.00,257.30 L101.80,260.20 Z" fill="#111" stroke="#111" stroke-width="0.4" />
<line x1="147.00" y1="169.50" x2="147.00" y2="228.75" stroke="#111" stroke-width="1.1" stroke-linecap="butt"/>
<line x1="146.50" y1="228.25" x2="238.80" y2="228.25" stroke="#111" stroke-width="1.1" stroke-linecap="butt"/>
<line x1="144.00" y1="228.25" x2="147.00" y2="228.25" stroke="#111" stroke-width="1.0" stroke-linecap="butt"/>
<text x="141.80" y="230.35" font-size="5.9" text-anchor="end" fill="#111" stroke="#111" stroke-width="0.18" >0</text>
<line x1="144.00" y1="213.69" x2="147.00" y2="213.69" stroke="#111" stroke-width="1.0" stroke-linecap="butt"/>
<text x="141.80" y="215.79" font-size="5.9" text-anchor="end" fill="#111" stroke="#111" stroke-width="0.18" >1000</text>
<line x1="144.00" y1="199.12" x2="147.00" y2="199.12" stroke="#111" stroke-width="1.0" stroke-linecap="butt"/>
<text x="141.80" y="201.22" font-size="5.9" text-anchor="end" fill="#111" stroke="#111" stroke-width="0.18" >2000</text>
<line x1="144.00" y1="184.56" x2="147.00" y2="184.56" stroke="#111" stroke-width="1.0" stroke-linecap="butt"/>
<text x="141.80" y="186.66" font-size="5.9" text-anchor="end" fill="#111" stroke="#111" stroke-width="0.18" >3000</text>
<line x1="144.00" y1="170.00" x2="147.00" y2="170.00" stroke="#111" stroke-width="1.0" stroke-linecap="butt"/>
<text x="141.80" y="172.10" font-size="5.9" text-anchor="end" fill="#111" stroke="#111" stroke-width="0.18" >4000</text>
<rect x="153.00" y="193.75" width="20.80" height="34.50" fill="#c4c4c4" stroke="none" stroke-width="1"/>
<line x1="163.40" y1="193.75" x2="163.40" y2="193.20" stroke="#111" stroke-width="1.0" stroke-linecap="butt"/>
<line x1="158.90" y1="193.20" x2="167.90" y2="193.20" stroke="#111" stroke-width="1.1" stroke-linecap="butt"/>
<line x1="163.40" y1="228.25" x2="163.40" y2="230.85" stroke="#111" stroke-width="1.0" stroke-linecap="butt"/>
<rect x="184.30" y="195.00" width="20.70" height="33.25" fill="#000" stroke="none" stroke-width="1"/>
<line x1="194.65" y1="195.00" x2="194.65" y2="191.60" stroke="#111" stroke-width="1.0" stroke-linecap="butt"/>
<line x1="190.15" y1="191.60" x2="199.15" y2="191.60" stroke="#111" stroke-width="1.1" stroke-linecap="butt"/>
<line x1="194.65" y1="228.25" x2="194.65" y2="230.85" stroke="#111" stroke-width="1.0" stroke-linecap="butt"/>
<rect x="215.00" y="187.00" width="20.50" height="41.25" fill="#7b7b7b" stroke="none" stroke-width="1"/>
<line x1="225.25" y1="187.00" x2="225.25" y2="182.50" stroke="#111" stroke-width="1.0" stroke-linecap="butt"/>
<line x1="220.75" y1="182.50" x2="229.75" y2="182.50" stroke="#111" stroke-width="1.1" stroke-linecap="butt"/>
<line x1="225.25" y1="228.25" x2="225.25" y2="230.85" stroke="#111" stroke-width="1.0" stroke-linecap="butt"/>
<text x="163.40" y="239.70" font-size="6.5" text-anchor="middle" fill="#111" stroke="#111" stroke-width="0.18" >Standard</text>
<text x="194.60" y="239.70" font-size="6.5" text-anchor="middle" fill="#111" stroke="#111" stroke-width="0.18" >+ whole</text>
<text x="194.60" y="247.30" font-size="6.5" text-anchor="middle" fill="#111" stroke="#111" stroke-width="0.18" >PB</text>
<text x="225.30" y="239.70" font-size="6.5" text-anchor="middle" fill="#111" stroke="#111" stroke-width="0.18" >+ PB</text>
<text x="225.30" y="247.30" font-size="6.5" text-anchor="middle" fill="#111" stroke="#111" stroke-width="0.18" >cellular</text>
<text x="225.30" y="255.00" font-size="6.5" text-anchor="middle" fill="#111" stroke="#111" stroke-width="0.18" >fraction</text>
<text x="122.30" y="198.90" font-size="8.0" text-anchor="middle" fill="#111" stroke="#111" stroke-width="0.26" textLength="32.8" lengthAdjust="spacingAndGlyphs" transform="rotate(-90 122.30 198.90)" >CD25 MFI</text>
<text x="194.60" y="188.40" font-size="4.6" text-anchor="middle" fill="#111" stroke="#111" stroke-width="0.18" >ns</text>
<text x="225.30" y="179.40" font-size="4.6" text-anchor="middle" fill="#111" stroke="#111" stroke-width="0.18" >ns</text>
<g transform="translate(262.30,147.80) scale(0.97,1)"><text x="0" y="0" font-size="9.8" font-weight="bold" fill="#111" stroke="#111" stroke-width="0.15">D</text></g>
<path d="M311.50,227.80 L314.00,224.00 L316.50,217.70 L317.50,206.00 L318.30,192.30 L319.20,185.00 L320.20,180.20 L321.20,182.00 L322.30,176.20 L323.30,180.00 L324.20,177.50 L325.20,175.50 L326.20,182.00 L326.90,188.80 L328.00,187.00 L329.00,186.50 L330.40,190.00 L331.80,195.00 L333.30,200.40 L334.80,207.00 L336.20,214.20 L337.40,219.50 L338.50,224.60 L340.00,227.00 L341.50,227.80 Z" fill="#000" stroke="#000" stroke-width="0.4" />
<path d="M306.00,227.50 L310.00,225.00 L313.00,220.00 L315.50,212.00 L317.00,200.00 L318.50,186.00 L319.80,176.00 L320.80,170.00 L321.80,168.00 L322.80,170.00 L323.50,176.00 L324.50,182.00" fill="none" stroke="#999" stroke-width="0.9" />
<path d="M291.00,227.60 L296.00,226.50 L300.00,225.50 L302.50,224.20 L304.20,223.40 L305.50,224.60 L307.00,223.00 L308.50,219.50 L310.20,215.20 L312.20,210.50 L314.20,206.20 L315.80,202.50 L317.00,197.00 L318.20,189.00 L319.20,180.00 L320.20,172.00 L321.00,167.20 L321.90,166.20 L322.80,167.20 L323.50,171.00 L324.20,177.50" fill="none" stroke="#111" stroke-width="0.8" />
<line x1="286.40" y1="227.80" x2="289.60" y2="227.80" stroke="#111" stroke-width="1.0" stroke-linecap="butt"/>
<text x="283.00" y="229.85" font-size="5.7" text-anchor="end" fill="#111" stroke="#111" stroke-width="0.18" >0</text>
<line x1="286.40" y1="213.70" x2="289.60" y2="213.70" stroke="#111" stroke-width="1.0" stroke-linecap="butt"/>
<text x="283.00" y="215.75" font-size="5.7" text-anchor="end" fill="#111" stroke="#111" stroke-width="0.18" >20</text>
<line x1="286.40" y1="199.60" x2="289.60" y2="199.60" stroke="#111" stroke-width="1.0" stroke-linecap="butt"/>
<text x="283.00" y="201.65" font-size="5.7" text-anchor="end" fill="#111" stroke="#111" stroke-width="0.18" >40</text>
<line x1="286.40" y1="185.50" x2="289.60" y2="185.50" stroke="#111" stroke-width="1.0" stroke-linecap="butt"/>
<text x="283.00" y="187.55" font-size="5.7" text-anchor="end" fill="#111" stroke="#111" stroke-width="0.18" >60</text>
<line x1="286.40" y1="171.40" x2="289.60" y2="171.40" stroke="#111" stroke-width="1.0" stroke-linecap="butt"/>
<text x="283.00" y="173.45" font-size="5.7" text-anchor="end" fill="#111" stroke="#111" stroke-width="0.18" >80</text>
<line x1="286.40" y1="157.30" x2="289.60" y2="157.30" stroke="#111" stroke-width="1.0" stroke-linecap="butt"/>
<text x="283.00" y="159.35" font-size="5.7" text-anchor="end" fill="#111" stroke="#111" stroke-width="0.18" >100</text>
<line x1="287.80" y1="227.80" x2="289.60" y2="227.80" stroke="#111" stroke-width="0.7" stroke-linecap="butt"/>
<line x1="287.80" y1="224.28" x2="289.60" y2="224.28" stroke="#111" stroke-width="0.7" stroke-linecap="butt"/>
<line x1="287.80" y1="220.75" x2="289.60" y2="220.75" stroke="#111" stroke-width="0.7" stroke-linecap="butt"/>
<line x1="287.80" y1="217.23" x2="289.60" y2="217.23" stroke="#111" stroke-width="0.7" stroke-linecap="butt"/>
<line x1="287.80" y1="213.70" x2="289.60" y2="213.70" stroke="#111" stroke-width="0.7" stroke-linecap="butt"/>
<line x1="287.80" y1="210.18" x2="289.60" y2="210.18" stroke="#111" stroke-width="0.7" stroke-linecap="butt"/>
<line x1="287.80" y1="206.65" x2="289.60" y2="206.65" stroke="#111" stroke-width="0.7" stroke-linecap="butt"/>
<line x1="287.80" y1="203.12" x2="289.60" y2="203.12" stroke="#111" stroke-width="0.7" stroke-linecap="butt"/>
<line x1="287.80" y1="199.60" x2="289.60" y2="199.60" stroke="#111" stroke-width="0.7" stroke-linecap="butt"/>
<line x1="287.80" y1="196.08" x2="289.60" y2="196.08" stroke="#111" stroke-width="0.7" stroke-linecap="butt"/>
<line x1="287.80" y1="192.55" x2="289.60" y2="192.55" stroke="#111" stroke-width="0.7" stroke-linecap="butt"/>
<line x1="287.80" y1="189.03" x2="289.60" y2="189.03" stroke="#111" stroke-width="0.7" stroke-linecap="butt"/>
<line x1="287.80" y1="185.50" x2="289.60" y2="185.50" stroke="#111" stroke-width="0.7" stroke-linecap="butt"/>
<line x1="287.80" y1="181.98" x2="289.60" y2="181.98" stroke="#111" stroke-width="0.7" stroke-linecap="butt"/>
<line x1="287.80" y1="178.45" x2="289.60" y2="178.45" stroke="#111" stroke-width="0.7" stroke-linecap="butt"/>
<line x1="287.80" y1="174.93" x2="289.60" y2="174.93" stroke="#111" stroke-width="0.7" stroke-linecap="butt"/>
<line x1="287.80" y1="171.40" x2="289.60" y2="171.40" stroke="#111" stroke-width="0.7" stroke-linecap="butt"/>
<line x1="287.80" y1="167.88" x2="289.60" y2="167.88" stroke="#111" stroke-width="0.7" stroke-linecap="butt"/>
<line x1="287.80" y1="164.35" x2="289.60" y2="164.35" stroke="#111" stroke-width="0.7" stroke-linecap="butt"/>
<line x1="287.80" y1="160.83" x2="289.60" y2="160.83" stroke="#111" stroke-width="0.7" stroke-linecap="butt"/>
<line x1="287.80" y1="157.30" x2="289.60" y2="157.30" stroke="#111" stroke-width="0.7" stroke-linecap="butt"/>
<rect x="289.60" y="154.80" width="80.70" height="73.00" fill="none" stroke="#111" stroke-width="1.3"/>
<line x1="290.60" y1="227.80" x2="290.60" y2="230.40" stroke="#111" stroke-width="1.0" stroke-linecap="butt"/>
<text x="290.20" y="240.80" font-size="5.9" text-anchor="middle" fill="#111" stroke="#111" stroke-width="0.18">10<tspan font-size="4.25" dy="-2.2">0</tspan></text>
<line x1="304.95" y1="227.80" x2="304.95" y2="230.40" stroke="#111" stroke-width="1.0" stroke-linecap="butt"/>
<text x="304.55" y="240.80" font-size="5.9" text-anchor="middle" fill="#111" stroke="#111" stroke-width="0.18">10<tspan font-size="4.25" dy="-2.2">1</tspan></text>
<line x1="319.30" y1="227.80" x2="319.30" y2="230.40" stroke="#111" stroke-width="1.0" stroke-linecap="butt"/>
<text x="318.90" y="240.80" font-size="5.9" text-anchor="middle" fill="#111" stroke="#111" stroke-width="0.18">10<tspan font-size="4.25" dy="-2.2">2</tspan></text>
<line x1="333.65" y1="227.80" x2="333.65" y2="230.40" stroke="#111" stroke-width="1.0" stroke-linecap="butt"/>
<text x="333.25" y="240.80" font-size="5.9" text-anchor="middle" fill="#111" stroke="#111" stroke-width="0.18">10<tspan font-size="4.25" dy="-2.2">3</tspan></text>
<line x1="348.00" y1="227.80" x2="348.00" y2="230.40" stroke="#111" stroke-width="1.0" stroke-linecap="butt"/>
<text x="347.60" y="240.80" font-size="5.9" text-anchor="middle" fill="#111" stroke="#111" stroke-width="0.18">10<tspan font-size="4.25" dy="-2.2">4</tspan></text>
<line x1="362.35" y1="227.80" x2="362.35" y2="230.40" stroke="#111" stroke-width="1.0" stroke-linecap="butt"/>
<text x="361.95" y="240.80" font-size="5.9" text-anchor="middle" fill="#111" stroke="#111" stroke-width="0.18">10<tspan font-size="4.25" dy="-2.2">5</tspan></text>
<line x1="294.92" y1="227.80" x2="294.92" y2="229.40" stroke="#111" stroke-width="0.6" stroke-linecap="butt"/>
<line x1="297.45" y1="227.80" x2="297.45" y2="229.40" stroke="#111" stroke-width="0.6" stroke-linecap="butt"/>
<line x1="299.24" y1="227.80" x2="299.24" y2="229.40" stroke="#111" stroke-width="0.6" stroke-linecap="butt"/>
<line x1="300.63" y1="227.80" x2="300.63" y2="229.40" stroke="#111" stroke-width="0.6" stroke-linecap="butt"/>
<line x1="301.77" y1="227.80" x2="301.77" y2="229.40" stroke="#111" stroke-width="0.6" stroke-linecap="butt"/>
<line x1="302.73" y1="227.80" x2="302.73" y2="229.40" stroke="#111" stroke-width="0.6" stroke-linecap="butt"/>
<line x1="303.56" y1="227.80" x2="303.56" y2="229.40" stroke="#111" stroke-width="0.6" stroke-linecap="butt"/>
<line x1="304.29" y1="227.80" x2="304.29" y2="229.40" stroke="#111" stroke-width="0.6" stroke-linecap="butt"/>
<line x1="309.27" y1="227.80" x2="309.27" y2="229.40" stroke="#111" stroke-width="0.6" stroke-linecap="butt"/>
<line x1="311.80" y1="227.80" x2="311.80" y2="229.40" stroke="#111" stroke-width="0.6" stroke-linecap="butt"/>
<line x1="313.59" y1="227.80" x2="313.59" y2="229.40" stroke="#111" stroke-width="0.6" stroke-linecap="butt"/>
<line x1="314.98" y1="227.80" x2="314.98" y2="229.40" stroke="#111" stroke-width="0.6" stroke-linecap="butt"/>
<line x1="316.12" y1="227.80" x2="316.12" y2="229.40" stroke="#111" stroke-width="0.6" stroke-linecap="butt"/>
<line x1="317.08" y1="227.80" x2="317.08" y2="229.40" stroke="#111" stroke-width="0.6" stroke-linecap="butt"/>
<line x1="317.91" y1="227.80" x2="317.91" y2="229.40" stroke="#111" stroke-width="0.6" stroke-linecap="butt"/>
<line x1="318.64" y1="227.80" x2="318.64" y2="229.40" stroke="#111" stroke-width="0.6" stroke-linecap="butt"/>
<line x1="323.62" y1="227.80" x2="323.62" y2="229.40" stroke="#111" stroke-width="0.6" stroke-linecap="butt"/>
<line x1="326.15" y1="227.80" x2="326.15" y2="229.40" stroke="#111" stroke-width="0.6" stroke-linecap="butt"/>
<line x1="327.94" y1="227.80" x2="327.94" y2="229.40" stroke="#111" stroke-width="0.6" stroke-linecap="butt"/>
<line x1="329.33" y1="227.80" x2="329.33" y2="229.40" stroke="#111" stroke-width="0.6" stroke-linecap="butt"/>
<line x1="330.47" y1="227.80" x2="330.47" y2="229.40" stroke="#111" stroke-width="0.6" stroke-linecap="butt"/>
<line x1="331.43" y1="227.80" x2="331.43" y2="229.40" stroke="#111" stroke-width="0.6" stroke-linecap="butt"/>
<line x1="332.26" y1="227.80" x2="332.26" y2="229.40" stroke="#111" stroke-width="0.6" stroke-linecap="butt"/>
<line x1="332.99" y1="227.80" x2="332.99" y2="229.40" stroke="#111" stroke-width="0.6" stroke-linecap="butt"/>
<line x1="337.97" y1="227.80" x2="337.97" y2="229.40" stroke="#111" stroke-width="0.6" stroke-linecap="butt"/>
<line x1="340.50" y1="227.80" x2="340.50" y2="229.40" stroke="#111" stroke-width="0.6" stroke-linecap="butt"/>
<line x1="342.29" y1="227.80" x2="342.29" y2="229.40" stroke="#111" stroke-width="0.6" stroke-linecap="butt"/>
<line x1="343.68" y1="227.80" x2="343.68" y2="229.40" stroke="#111" stroke-width="0.6" stroke-linecap="butt"/>
<line x1="344.82" y1="227.80" x2="344.82" y2="229.40" stroke="#111" stroke-width="0.6" stroke-linecap="butt"/>
<line x1="345.78" y1="227.80" x2="345.78" y2="229.40" stroke="#111" stroke-width="0.6" stroke-linecap="butt"/>
<line x1="346.61" y1="227.80" x2="346.61" y2="229.40" stroke="#111" stroke-width="0.6" stroke-linecap="butt"/>
<line x1="347.34" y1="227.80" x2="347.34" y2="229.40" stroke="#111" stroke-width="0.6" stroke-linecap="butt"/>
<line x1="352.32" y1="227.80" x2="352.32" y2="229.40" stroke="#111" stroke-width="0.6" stroke-linecap="butt"/>
<line x1="354.85" y1="227.80" x2="354.85" y2="229.40" stroke="#111" stroke-width="0.6" stroke-linecap="butt"/>
<line x1="356.64" y1="227.80" x2="356.64" y2="229.40" stroke="#111" stroke-width="0.6" stroke-linecap="butt"/>
<line x1="358.03" y1="227.80" x2="358.03" y2="229.40" stroke="#111" stroke-width="0.6" stroke-linecap="butt"/>
<line x1="359.17" y1="227.80" x2="359.17" y2="229.40" stroke="#111" stroke-width="0.6" stroke-linecap="butt"/>
<line x1="360.13" y1="227.80" x2="360.13" y2="229.40" stroke="#111" stroke-width="0.6" stroke-linecap="butt"/>
<line x1="360.96" y1="227.80" x2="360.96" y2="229.40" stroke="#111" stroke-width="0.6" stroke-linecap="butt"/>
<line x1="361.69" y1="227.80" x2="361.69" y2="229.40" stroke="#111" stroke-width="0.6" stroke-linecap="butt"/>
<text x="327.50" y="253.20" font-size="8.2" text-anchor="middle" fill="#111" stroke="#111" stroke-width="0.26" textLength="21.5" lengthAdjust="spacingAndGlyphs" >CTLA4</text>
<line x1="289.60" y1="257.40" x2="363.30" y2="257.40" stroke="#111" stroke-width="1.3" stroke-linecap="butt"/>
<path d="M369.30,257.40 L362.80,254.50 L364.00,257.40 L362.80,260.30 Z" fill="#111" stroke="#111" stroke-width="0.4" />
<line x1="407.50" y1="165.50" x2="407.50" y2="228.60" stroke="#111" stroke-width="1.1" stroke-linecap="butt"/>
<line x1="407.00" y1="228.10" x2="497.20" y2="228.10" stroke="#111" stroke-width="1.1" stroke-linecap="butt"/>
<line x1="404.50" y1="228.10" x2="407.50" y2="228.10" stroke="#111" stroke-width="1.0" stroke-linecap="butt"/>
<text x="402.30" y="230.20" font-size="5.9" text-anchor="end" fill="#111" stroke="#111" stroke-width="0.18" >0</text>
<line x1="404.50" y1="208.20" x2="407.50" y2="208.20" stroke="#111" stroke-width="1.0" stroke-linecap="butt"/>
<text x="402.30" y="210.30" font-size="5.9" text-anchor="end" fill="#111" stroke="#111" stroke-width="0.18" >200</text>
<line x1="404.50" y1="188.30" x2="407.50" y2="188.30" stroke="#111" stroke-width="1.0" stroke-linecap="butt"/>
<text x="402.30" y="190.40" font-size="5.9" text-anchor="end" fill="#111" stroke="#111" stroke-width="0.18" >400</text>
<line x1="404.50" y1="168.40" x2="407.50" y2="168.40" stroke="#111" stroke-width="1.0" stroke-linecap="butt"/>
<text x="402.30" y="170.50" font-size="5.9" text-anchor="end" fill="#111" stroke="#111" stroke-width="0.18" >600</text>
<rect x="413.40" y="219.00" width="21.80" height="9.10" fill="#c4c4c4" stroke="none" stroke-width="1"/>
<line x1="424.30" y1="219.00" x2="424.30" y2="218.20" stroke="#111" stroke-width="1.0" stroke-linecap="butt"/>
<line x1="419.80" y1="218.20" x2="428.80" y2="218.20" stroke="#111" stroke-width="1.1" stroke-linecap="butt"/>
<line x1="424.30" y1="228.10" x2="424.30" y2="230.70" stroke="#111" stroke-width="1.0" stroke-linecap="butt"/>
<rect x="444.60" y="179.50" width="20.50" height="48.60" fill="#000" stroke="none" stroke-width="1"/>
<line x1="454.85" y1="179.50" x2="454.85" y2="175.60" stroke="#111" stroke-width="1.0" stroke-linecap="butt"/>
<line x1="450.35" y1="175.60" x2="459.35" y2="175.60" stroke="#111" stroke-width="1.1" stroke-linecap="butt"/>
<line x1="454.85" y1="228.10" x2="454.85" y2="230.70" stroke="#111" stroke-width="1.0" stroke-linecap="butt"/>
<rect x="475.50" y="204.70" width="19.70" height="23.40" fill="#7b7b7b" stroke="none" stroke-width="1"/>
<line x1="485.35" y1="204.70" x2="485.35" y2="201.30" stroke="#111" stroke-width="1.0" stroke-linecap="butt"/>
<line x1="480.85" y1="201.30" x2="489.85" y2="201.30" stroke="#111" stroke-width="1.1" stroke-linecap="butt"/>
<line x1="485.35" y1="228.10" x2="485.35" y2="230.70" stroke="#111" stroke-width="1.0" stroke-linecap="butt"/>
<text x="424.30" y="239.60" font-size="6.5" text-anchor="middle" fill="#111" stroke="#111" stroke-width="0.18" >Standard</text>
<text x="454.90" y="239.60" font-size="6.5" text-anchor="middle" fill="#111" stroke="#111" stroke-width="0.18" >+ whole</text>
<text x="454.90" y="247.40" font-size="6.5" text-anchor="middle" fill="#111" stroke="#111" stroke-width="0.18" >PB</text>
<text x="485.40" y="239.60" font-size="6.5" text-anchor="middle" fill="#111" stroke="#111" stroke-width="0.18" >+ PB</text>
<text x="485.40" y="247.40" font-size="6.5" text-anchor="middle" fill="#111" stroke="#111" stroke-width="0.18" >cellular</text>
<text x="485.40" y="254.90" font-size="6.5" text-anchor="middle" fill="#111" stroke="#111" stroke-width="0.18" >fraction</text>
<text x="387.80" y="196.10" font-size="8.0" text-anchor="middle" fill="#111" stroke="#111" stroke-width="0.26" textLength="65" lengthAdjust="spacingAndGlyphs" transform="rotate(-90 387.80 196.10)" >Surface CTLA4 MFI</text>
<text x="454.90" y="173.60" font-size="5.0" text-anchor="middle" fill="#111" stroke="#111" stroke-width="0.18" >***</text>
<text x="485.40" y="198.40" font-size="5.0" text-anchor="middle" fill="#111" stroke="#111" stroke-width="0.18" >**</text>
<path d="M454.9,167.3 L454.9,162.7 L485.4,162.7 L485.4,190.4" fill="none" stroke="#111" stroke-width="1.0" />
<text x="469.80" y="158.20" font-size="5.0" text-anchor="middle" fill="#111" stroke="#111" stroke-width="0.18" >***</text>
<g transform="translate(6.60,281.80) scale(0.97,1)"><text x="0" y="0" font-size="9.8" font-weight="normal" fill="#111" stroke="#111" stroke-width="0.15">E</text></g>
<path d="M58.50,365.80 L60.00,358.00 L61.20,345.00 L62.00,330.00 L62.80,315.00 L63.50,303.00 L64.30,297.50 L65.20,299.00 L66.20,296.80 L67.20,295.80 L68.00,299.00 L68.60,306.00 L69.30,320.00 L70.00,335.00 L70.80,348.00 L71.70,358.00 L72.80,364.00 L74.00,365.80 Z" fill="#000" stroke="#000" stroke-width="0.4" />
<path d="M56.30,365.80 L57.50,360.00 L58.80,345.00 L59.80,330.00 L60.80,315.00 L61.80,303.00 L62.80,297.80 L63.80,296.80 L64.50,298.00 L63.50,310.00 L62.50,330.00 L61.50,345.00 L60.50,358.00 L60.00,365.80 Z" fill="#8a8a8a" stroke="#8a8a8a" stroke-width="0.4" />
<path d="M53.50,365.50 L55.00,360.00 L56.50,348.00 L57.80,332.00 L59.00,315.00 L60.20,303.00 L61.20,298.50 L62.20,298.00" fill="none" stroke="#fff" stroke-width="0.8" />
<path d="M50.50,365.60 L52.00,362.00 L53.50,356.00 L55.00,344.00 L56.30,330.00 L57.50,316.00 L58.60,306.00 L59.60,301.50 L60.40,300.60 L61.30,302.50" fill="none" stroke="#1a1a1a" stroke-width="1.2" stroke-dasharray="2.8,1.4"/>
<line x1="26.70" y1="365.80" x2="29.90" y2="365.80" stroke="#111" stroke-width="1.0" stroke-linecap="butt"/>
<text x="23.30" y="367.85" font-size="5.7" text-anchor="end" fill="#111" stroke="#111" stroke-width="0.18" >0</text>
<line x1="26.70" y1="350.84" x2="29.90" y2="350.84" stroke="#111" stroke-width="1.0" stroke-linecap="butt"/>
<text x="23.30" y="352.89" font-size="5.7" text-anchor="end" fill="#111" stroke="#111" stroke-width="0.18" >20</text>
<line x1="26.70" y1="335.88" x2="29.90" y2="335.88" stroke="#111" stroke-width="1.0" stroke-linecap="butt"/>
<text x="23.30" y="337.93" font-size="5.7" text-anchor="end" fill="#111" stroke="#111" stroke-width="0.18" >40</text>
<line x1="26.70" y1="320.92" x2="29.90" y2="320.92" stroke="#111" stroke-width="1.0" stroke-linecap="butt"/>
<text x="23.30" y="322.97" font-size="5.7" text-anchor="end" fill="#111" stroke="#111" stroke-width="0.18" >60</text>
<line x1="26.70" y1="305.96" x2="29.90" y2="305.96" stroke="#111" stroke-width="1.0" stroke-linecap="butt"/>
<text x="23.30" y="308.01" font-size="5.7" text-anchor="end" fill="#111" stroke="#111" stroke-width="0.18" >80</text>
<line x1="26.70" y1="291.00" x2="29.90" y2="291.00" stroke="#111" stroke-width="1.0" stroke-linecap="butt"/>
<text x="23.30" y="293.05" font-size="5.7" text-anchor="end" fill="#111" stroke="#111" stroke-width="0.18" >100</text>
<line x1="28.10" y1="365.80" x2="29.90" y2="365.80" stroke="#111" stroke-width="0.7" stroke-linecap="butt"/>
<line x1="28.10" y1="362.06" x2="29.90" y2="362.06" stroke="#111" stroke-width="0.7" stroke-linecap="butt"/>
<line x1="28.10" y1="358.32" x2="29.90" y2="358.32" stroke="#111" stroke-width="0.7" stroke-linecap="butt"/>
<line x1="28.10" y1="354.58" x2="29.90" y2="354.58" stroke="#111" stroke-width="0.7" stroke-linecap="butt"/>
<line x1="28.10" y1="350.84" x2="29.90" y2="350.84" stroke="#111" stroke-width="0.7" stroke-linecap="butt"/>
<line x1="28.10" y1="347.10" x2="29.90" y2="347.10" stroke="#111" stroke-width="0.7" stroke-linecap="butt"/>
<line x1="28.10" y1="343.36" x2="29.90" y2="343.36" stroke="#111" stroke-width="0.7" stroke-linecap="butt"/>
<line x1="28.10" y1="339.62" x2="29.90" y2="339.62" stroke="#111" stroke-width="0.7" stroke-linecap="butt"/>
<line x1="28.10" y1="335.88" x2="29.90" y2="335.88" stroke="#111" stroke-width="0.7" stroke-linecap="butt"/>
<line x1="28.10" y1="332.14" x2="29.90" y2="332.14" stroke="#111" stroke-width="0.7" stroke-linecap="butt"/>
<line x1="28.10" y1="328.40" x2="29.90" y2="328.40" stroke="#111" stroke-width="0.7" stroke-linecap="butt"/>
<line x1="28.10" y1="324.66" x2="29.90" y2="324.66" stroke="#111" stroke-width="0.7" stroke-linecap="butt"/>
<line x1="28.10" y1="320.92" x2="29.90" y2="320.92" stroke="#111" stroke-width="0.7" stroke-linecap="butt"/>
<line x1="28.10" y1="317.18" x2="29.90" y2="317.18" stroke="#111" stroke-width="0.7" stroke-linecap="butt"/>
<line x1="28.10" y1="313.44" x2="29.90" y2="313.44" stroke="#111" stroke-width="0.7" stroke-linecap="butt"/>
<line x1="28.10" y1="309.70" x2="29.90" y2="309.70" stroke="#111" stroke-width="0.7" stroke-linecap="butt"/>
<line x1="28.10" y1="305.96" x2="29.90" y2="305.96" stroke="#111" stroke-width="0.7" stroke-linecap="butt"/>
<line x1="28.10" y1="302.22" x2="29.90" y2="302.22" stroke="#111" stroke-width="0.7" stroke-linecap="butt"/>
<line x1="28.10" y1="298.48" x2="29.90" y2="298.48" stroke="#111" stroke-width="0.7" stroke-linecap="butt"/>
<line x1="28.10" y1="294.74" x2="29.90" y2="294.74" stroke="#111" stroke-width="0.7" stroke-linecap="butt"/>
<line x1="28.10" y1="291.00" x2="29.90" y2="291.00" stroke="#111" stroke-width="0.7" stroke-linecap="butt"/>
<rect x="29.90" y="287.70" width="79.60" height="78.10" fill="none" stroke="#111" stroke-width="1.3"/>
<line x1="30.00" y1="365.80" x2="30.00" y2="368.40" stroke="#111" stroke-width="1.0" stroke-linecap="butt"/>
<text x="29.60" y="379.70" font-size="5.9" text-anchor="middle" fill="#111" stroke="#111" stroke-width="0.18">10<tspan font-size="4.25" dy="-2.2">0</tspan></text>
<line x1="44.86" y1="365.80" x2="44.86" y2="368.40" stroke="#111" stroke-width="1.0" stroke-linecap="butt"/>
<text x="44.46" y="379.70" font-size="5.9" text-anchor="middle" fill="#111" stroke="#111" stroke-width="0.18">10<tspan font-size="4.25" dy="-2.2">1</tspan></text>
<line x1="59.72" y1="365.80" x2="59.72" y2="368.40" stroke="#111" stroke-width="1.0" stroke-linecap="butt"/>
<text x="59.32" y="379.70" font-size="5.9" text-anchor="middle" fill="#111" stroke="#111" stroke-width="0.18">10<tspan font-size="4.25" dy="-2.2">2</tspan></text>
<line x1="74.58" y1="365.80" x2="74.58" y2="368.40" stroke="#111" stroke-width="1.0" stroke-linecap="butt"/>
<text x="74.18" y="379.70" font-size="5.9" text-anchor="middle" fill="#111" stroke="#111" stroke-width="0.18">10<tspan font-size="4.25" dy="-2.2">3</tspan></text>
<line x1="89.44" y1="365.80" x2="89.44" y2="368.40" stroke="#111" stroke-width="1.0" stroke-linecap="butt"/>
<text x="89.04" y="379.70" font-size="5.9" text-anchor="middle" fill="#111" stroke="#111" stroke-width="0.18">10<tspan font-size="4.25" dy="-2.2">4</tspan></text>
<line x1="104.30" y1="365.80" x2="104.30" y2="368.40" stroke="#111" stroke-width="1.0" stroke-linecap="butt"/>
<text x="103.90" y="379.70" font-size="5.9" text-anchor="middle" fill="#111" stroke="#111" stroke-width="0.18">10<tspan font-size="4.25" dy="-2.2">5</tspan></text>
<line x1="34.47" y1="365.80" x2="34.47" y2="367.40" stroke="#111" stroke-width="0.6" stroke-linecap="butt"/>
<line x1="37.09" y1="365.80" x2="37.09" y2="367.40" stroke="#111" stroke-width="0.6" stroke-linecap="butt"/>
<line x1="38.95" y1="365.80" x2="38.95" y2="367.40" stroke="#111" stroke-width="0.6" stroke-linecap="butt"/>
<line x1="40.39" y1="365.80" x2="40.39" y2="367.40" stroke="#111" stroke-width="0.6" stroke-linecap="butt"/>
<line x1="41.56" y1="365.80" x2="41.56" y2="367.40" stroke="#111" stroke-width="0.6" stroke-linecap="butt"/>
<line x1="42.56" y1="365.80" x2="42.56" y2="367.40" stroke="#111" stroke-width="0.6" stroke-linecap="butt"/>
<line x1="43.42" y1="365.80" x2="43.42" y2="367.40" stroke="#111" stroke-width="0.6" stroke-linecap="butt"/>
<line x1="44.18" y1="365.80" x2="44.18" y2="367.40" stroke="#111" stroke-width="0.6" stroke-linecap="butt"/>
<line x1="49.33" y1="365.80" x2="49.33" y2="367.40" stroke="#111" stroke-width="0.6" stroke-linecap="butt"/>
<line x1="51.95" y1="365.80" x2="51.95" y2="367.40" stroke="#111" stroke-width="0.6" stroke-linecap="butt"/>
<line x1="53.81" y1="365.80" x2="53.81" y2="367.40" stroke="#111" stroke-width="0.6" stroke-linecap="butt"/>
<line x1="55.25" y1="365.80" x2="55.25" y2="367.40" stroke="#111" stroke-width="0.6" stroke-linecap="butt"/>
<line x1="56.42" y1="365.80" x2="56.42" y2="367.40" stroke="#111" stroke-width="0.6" stroke-linecap="butt"/>
<line x1="57.42" y1="365.80" x2="57.42" y2="367.40" stroke="#111" stroke-width="0.6" stroke-linecap="butt"/>
<line x1="58.28" y1="365.80" x2="58.28" y2="367.40" stroke="#111" stroke-width="0.6" stroke-linecap="butt"/>
<line x1="59.04" y1="365.80" x2="59.04" y2="367.40" stroke="#111" stroke-width="0.6" stroke-linecap="butt"/>
<line x1="64.19" y1="365.80" x2="64.19" y2="367.40" stroke="#111" stroke-width="0.6" stroke-linecap="butt"/>
<line x1="66.81" y1="365.80" x2="66.81" y2="367.40" stroke="#111" stroke-width="0.6" stroke-linecap="butt"/>
<line x1="68.67" y1="365.80" x2="68.67" y2="367.40" stroke="#111" stroke-width="0.6" stroke-linecap="butt"/>
<line x1="70.11" y1="365.80" x2="70.11" y2="367.40" stroke="#111" stroke-width="0.6" stroke-linecap="butt"/>
<line x1="71.28" y1="365.80" x2="71.28" y2="367.40" stroke="#111" stroke-width="0.6" stroke-linecap="butt"/>
<line x1="72.28" y1="365.80" x2="72.28" y2="367.40" stroke="#111" stroke-width="0.6" stroke-linecap="butt"/>
<line x1="73.14" y1="365.80" x2="73.14" y2="367.40" stroke="#111" stroke-width="0.6" stroke-linecap="butt"/>
<line x1="73.90" y1="365.80" x2="73.90" y2="367.40" stroke="#111" stroke-width="0.6" stroke-linecap="butt"/>
<line x1="79.05" y1="365.80" x2="79.05" y2="367.40" stroke="#111" stroke-width="0.6" stroke-linecap="butt"/>
<line x1="81.67" y1="365.80" x2="81.67" y2="367.40" stroke="#111" stroke-width="0.6" stroke-linecap="butt"/>
<line x1="83.53" y1="365.80" x2="83.53" y2="367.40" stroke="#111" stroke-width="0.6" stroke-linecap="butt"/>
<line x1="84.97" y1="365.80" x2="84.97" y2="367.40" stroke="#111" stroke-width="0.6" stroke-linecap="butt"/>
<line x1="86.14" y1="365.80" x2="86.14" y2="367.40" stroke="#111" stroke-width="0.6" stroke-linecap="butt"/>
<line x1="87.14" y1="365.80" x2="87.14" y2="367.40" stroke="#111" stroke-width="0.6" stroke-linecap="butt"/>
<line x1="88.00" y1="365.80" x2="88.00" y2="367.40" stroke="#111" stroke-width="0.6" stroke-linecap="butt"/>
<line x1="88.76" y1="365.80" x2="88.76" y2="367.40" stroke="#111" stroke-width="0.6" stroke-linecap="butt"/>
<line x1="93.91" y1="365.80" x2="93.91" y2="367.40" stroke="#111" stroke-width="0.6" stroke-linecap="butt"/>
<line x1="96.53" y1="365.80" x2="96.53" y2="367.40" stroke="#111" stroke-width="0.6" stroke-linecap="butt"/>
<line x1="98.39" y1="365.80" x2="98.39" y2="367.40" stroke="#111" stroke-width="0.6" stroke-linecap="butt"/>
<line x1="99.83" y1="365.80" x2="99.83" y2="367.40" stroke="#111" stroke-width="0.6" stroke-linecap="butt"/>
<line x1="101.00" y1="365.80" x2="101.00" y2="367.40" stroke="#111" stroke-width="0.6" stroke-linecap="butt"/>
<line x1="102.00" y1="365.80" x2="102.00" y2="367.40" stroke="#111" stroke-width="0.6" stroke-linecap="butt"/>
<line x1="102.86" y1="365.80" x2="102.86" y2="367.40" stroke="#111" stroke-width="0.6" stroke-linecap="butt"/>
<line x1="103.62" y1="365.80" x2="103.62" y2="367.40" stroke="#111" stroke-width="0.6" stroke-linecap="butt"/>
<text x="70.80" y="391.00" font-size="8.2" text-anchor="middle" fill="#111" stroke="#111" stroke-width="0.26" textLength="13.5" lengthAdjust="spacingAndGlyphs" >LAP</text>
<line x1="29.90" y1="395.60" x2="103.80" y2="395.60" stroke="#111" stroke-width="1.3" stroke-linecap="butt"/>
<path d="M109.80,395.60 L103.30,392.70 L104.50,395.60 L103.30,398.50 Z" fill="#111" stroke="#111" stroke-width="0.4" />
<line x1="147.50" y1="300.00" x2="147.50" y2="366.00" stroke="#111" stroke-width="1.1" stroke-linecap="butt"/>
<line x1="147.00" y1="365.50" x2="239.00" y2="365.50" stroke="#111" stroke-width="1.1" stroke-linecap="butt"/>
<line x1="144.50" y1="365.50" x2="147.50" y2="365.50" stroke="#111" stroke-width="1.0" stroke-linecap="butt"/>
<text x="142.30" y="367.60" font-size="5.9" text-anchor="end" fill="#111" stroke="#111" stroke-width="0.18" >0</text>
<line x1="144.50" y1="344.50" x2="147.50" y2="344.50" stroke="#111" stroke-width="1.0" stroke-linecap="butt"/>
<text x="142.30" y="346.60" font-size="5.9" text-anchor="end" fill="#111" stroke="#111" stroke-width="0.18" >10</text>
<line x1="144.50" y1="323.50" x2="147.50" y2="323.50" stroke="#111" stroke-width="1.0" stroke-linecap="butt"/>
<text x="142.30" y="325.60" font-size="5.9" text-anchor="end" fill="#111" stroke="#111" stroke-width="0.18" >20</text>
<line x1="144.50" y1="302.50" x2="147.50" y2="302.50" stroke="#111" stroke-width="1.0" stroke-linecap="butt"/>
<text x="142.30" y="304.60" font-size="5.9" text-anchor="end" fill="#111" stroke="#111" stroke-width="0.18" >30</text>
<rect x="153.00" y="343.25" width="20.80" height="22.25" fill="#c4c4c4" stroke="none" stroke-width="1"/>
<line x1="163.40" y1="343.25" x2="163.40" y2="335.50" stroke="#111" stroke-width="1.0" stroke-linecap="butt"/>
<line x1="158.90" y1="335.50" x2="167.90" y2="335.50" stroke="#111" stroke-width="1.1" stroke-linecap="butt"/>
<line x1="163.40" y1="365.50" x2="163.40" y2="368.10" stroke="#111" stroke-width="1.0" stroke-linecap="butt"/>
<rect x="185.00" y="313.00" width="20.00" height="52.50" fill="#000" stroke="none" stroke-width="1"/>
<line x1="195.00" y1="313.00" x2="195.00" y2="305.50" stroke="#111" stroke-width="1.0" stroke-linecap="butt"/>
<line x1="190.50" y1="305.50" x2="199.50" y2="305.50" stroke="#111" stroke-width="1.1" stroke-linecap="butt"/>
<line x1="195.00" y1="365.50" x2="195.00" y2="368.10" stroke="#111" stroke-width="1.0" stroke-linecap="butt"/>
<rect x="216.30" y="330.50" width="20.70" height="35.00" fill="#7b7b7b" stroke="none" stroke-width="1"/>
<line x1="226.65" y1="330.50" x2="226.65" y2="325.50" stroke="#111" stroke-width="1.0" stroke-linecap="butt"/>
<line x1="222.15" y1="325.50" x2="231.15" y2="325.50" stroke="#111" stroke-width="1.1" stroke-linecap="butt"/>
<line x1="226.65" y1="365.50" x2="226.65" y2="368.10" stroke="#111" stroke-width="1.0" stroke-linecap="butt"/>
<text x="163.60" y="377.10" font-size="6.5" text-anchor="middle" fill="#111" stroke="#111" stroke-width="0.18" >Standard</text>
<text x="195.00" y="377.10" font-size="6.5" text-anchor="middle" fill="#111" stroke="#111" stroke-width="0.18" >+ whole</text>
<text x="195.00" y="384.90" font-size="6.5" text-anchor="middle" fill="#111" stroke="#111" stroke-width="0.18" >PB</text>
<text x="226.70" y="377.10" font-size="6.5" text-anchor="middle" fill="#111" stroke="#111" stroke-width="0.18" >+ PB</text>
<text x="226.70" y="384.90" font-size="6.5" text-anchor="middle" fill="#111" stroke="#111" stroke-width="0.18" >cellular</text>
<text x="226.70" y="392.40" font-size="6.5" text-anchor="middle" fill="#111" stroke="#111" stroke-width="0.18" >fraction</text>
<text x="128.80" y="332.40" font-size="8.0" text-anchor="middle" fill="#111" stroke="#111" stroke-width="0.26" textLength="83.5" lengthAdjust="spacingAndGlyphs" transform="rotate(-90 128.80 332.40)" >% LAP+ Treg / total Treg</text>
<text x="195.00" y="305.00" font-size="5.0" text-anchor="middle" fill="#111" stroke="#111" stroke-width="0.18" >**</text>
<text x="226.70" y="320.60" font-size="4.6" text-anchor="middle" fill="#111" stroke="#111" stroke-width="0.18" >ns</text>
<path d="M195.0,296.3 L195.0,292.0 L226.7,292.0 L226.7,309.5" fill="none" stroke="#111" stroke-width="1.0" />
<text x="210.80" y="291.20" font-size="5.0" text-anchor="middle" fill="#111" stroke="#111" stroke-width="0.18" >*</text>
<g transform="translate(262.30,284.10) scale(0.97,1)"><text x="0" y="0" font-size="9.8" font-weight="bold" fill="#111" stroke="#111" stroke-width="0.15">F</text></g>
<line x1="288.60" y1="286.60" x2="288.60" y2="366.80" stroke="#111" stroke-width="1.1" stroke-linecap="butt"/>
<line x1="285.40" y1="366.30" x2="288.60" y2="366.30" stroke="#111" stroke-width="0.9900000000000001" stroke-linecap="butt"/>
<text x="282.80" y="368.40" font-size="5.8" text-anchor="end" fill="#111" stroke="#111" stroke-width="0.18" >0</text>
<line x1="285.40" y1="350.46" x2="288.60" y2="350.46" stroke="#111" stroke-width="0.9900000000000001" stroke-linecap="butt"/>
<text x="282.80" y="352.56" font-size="5.8" text-anchor="end" fill="#111" stroke="#111" stroke-width="0.18" >20</text>
<line x1="285.40" y1="334.62" x2="288.60" y2="334.62" stroke="#111" stroke-width="0.9900000000000001" stroke-linecap="butt"/>
<text x="282.80" y="336.72" font-size="5.8" text-anchor="end" fill="#111" stroke="#111" stroke-width="0.18" >40</text>
<line x1="285.40" y1="318.78" x2="288.60" y2="318.78" stroke="#111" stroke-width="0.9900000000000001" stroke-linecap="butt"/>
<text x="282.80" y="320.88" font-size="5.8" text-anchor="end" fill="#111" stroke="#111" stroke-width="0.18" >60</text>
<line x1="285.40" y1="302.94" x2="288.60" y2="302.94" stroke="#111" stroke-width="0.9900000000000001" stroke-linecap="butt"/>
<text x="282.80" y="305.04" font-size="5.8" text-anchor="end" fill="#111" stroke="#111" stroke-width="0.18" >80</text>
<line x1="285.40" y1="287.10" x2="288.60" y2="287.10" stroke="#111" stroke-width="0.9900000000000001" stroke-linecap="butt"/>
<text x="282.80" y="289.20" font-size="5.8" text-anchor="end" fill="#111" stroke="#111" stroke-width="0.18" >100</text>
<line x1="288.10" y1="366.40" x2="410.50" y2="366.40" stroke="#111" stroke-width="1.1" stroke-linecap="butt"/>
<line x1="288.60" y1="366.40" x2="288.60" y2="369.40" stroke="#111" stroke-width="0.9900000000000001" stroke-linecap="butt"/>
<text x="288.60" y="377.90" font-size="6.2" text-anchor="middle" fill="#111" stroke="#111" stroke-width="0.18" >0</text>
<line x1="318.30" y1="366.40" x2="318.30" y2="369.40" stroke="#111" stroke-width="0.9900000000000001" stroke-linecap="butt"/>
<text x="318.30" y="377.90" font-size="6.2" text-anchor="middle" fill="#111" stroke="#111" stroke-width="0.18" >20</text>
<line x1="348.00" y1="366.40" x2="348.00" y2="369.40" stroke="#111" stroke-width="0.9900000000000001" stroke-linecap="butt"/>
<text x="348.00" y="377.90" font-size="6.2" text-anchor="middle" fill="#111" stroke="#111" stroke-width="0.18" >40</text>
<line x1="377.70" y1="366.40" x2="377.70" y2="369.40" stroke="#111" stroke-width="0.9900000000000001" stroke-linecap="butt"/>
<text x="377.70" y="377.90" font-size="6.2" text-anchor="middle" fill="#111" stroke="#111" stroke-width="0.18" >60</text>
<line x1="407.40" y1="366.40" x2="407.40" y2="369.40" stroke="#111" stroke-width="0.9900000000000001" stroke-linecap="butt"/>
<text x="407.40" y="377.90" font-size="6.2" text-anchor="middle" fill="#111" stroke="#111" stroke-width="0.18" >80</text>
<text x="269.00" y="324.90" font-size="8.5" text-anchor="middle" fill="#111" stroke="#111" stroke-width="0.26" textLength="54" lengthAdjust="spacingAndGlyphs" transform="rotate(-90 269.00 324.90)" >Percent survival</text>
<text x="306.20" y="389.00" font-size="8.5" text-anchor="start" fill="#111" stroke="#111" stroke-width="0.26" textLength="86.8" lengthAdjust="spacingAndGlyphs" >Days after transplantation</text>
<line x1="288.60" y1="287.10" x2="336.20" y2="287.10" stroke="#111" stroke-width="1.4" stroke-linecap="butt"/>
<line x1="336.20" y1="287.10" x2="400.00" y2="287.10" stroke="#111" stroke-width="1.2" stroke-linecap="butt" stroke-dasharray="3.4,2.2"/>
<rect x="398.00" y="285.10" width="4.00" height="4.00" fill="#111"/>
<path d="M336.2,287.1 L336.2,303.1 L400,303.1" fill="none" stroke="#111" stroke-width="1.4" />
<circle cx="336.20" cy="303.10" r="2.20" fill="#111"/>
<circle cx="400.00" cy="303.10" r="2.20" fill="#111"/>
<path d="M306.3,287.1 L306.3,293.8 L308.7,293.8 L308.7,302.3 L310.7,302.3 L310.7,309.0 L328.6,309.0 L328.6,316.3 L331.3,316.3 L331.3,323.4 L400,323.4" fill="none" stroke="#111" stroke-width="1.4" />
<circle cx="306.60" cy="293.80" r="2.00" fill="#ddd" stroke="#111" stroke-width="1.00"/>
<circle cx="308.90" cy="302.00" r="2.00" fill="#ddd" stroke="#111" stroke-width="1.00"/>
<circle cx="311.00" cy="309.60" r="2.00" fill="#ddd" stroke="#111" stroke-width="1.00"/>
<circle cx="328.40" cy="316.30" r="2.00" fill="#ddd" stroke="#111" stroke-width="1.00"/>
<circle cx="331.30" cy="323.50" r="2.00" fill="#ddd" stroke="#111" stroke-width="1.00"/>
<circle cx="400.00" cy="323.40" r="2.00" fill="#ddd" stroke="#111" stroke-width="1.00"/>
<path d="M299.1,287.1 L299.1,294.5 L302.6,294.5 L302.6,321.3 L304.6,321.3 L304.6,326.8 L318.4,326.8 L318.4,337.0" fill="none" stroke="#111" stroke-width="1.4" />
<path d="M303.0,287.1 L303.0,297.0" fill="none" stroke="#111" stroke-width="1.4" />
<path d="M304.4,287.1 L304.4,300.0" fill="none" stroke="#111" stroke-width="1.4" />
<path d="M309.2,326.8 L309.2,333.6 L315.5,333.6 L315.5,340.4 L359.2,340.4 L359.2,347.2 L371.7,347.2 L371.7,353.6 L400,353.6" fill="none" stroke="#111" stroke-width="1.4" />
<path d="M299.10,292.13 L301.69,296.58 L296.51,296.58 Z" fill="#111"/>
<path d="M302.60,295.13 L305.19,299.58 L300.01,299.58 Z" fill="#111"/>
<path d="M302.40,305.83 L304.99,310.28 L299.81,310.28 Z" fill="#111"/>
<path d="M303.40,318.93 L305.99,323.38 L300.81,323.38 Z" fill="#111"/>
<path d="M305.00,323.53 L307.59,327.98 L302.41,327.98 Z" fill="#111"/>
<path d="M306.20,324.13 L308.79,328.58 L303.61,328.58 Z" fill="#111"/>
<path d="M309.40,331.03 L311.99,335.48 L306.81,335.48 Z" fill="#111"/>
<path d="M315.50,338.03 L318.09,342.48 L312.91,342.48 Z" fill="#111"/>
<path d="M359.20,344.33 L361.79,348.78 L356.61,348.78 Z" fill="#111"/>
<path d="M371.70,350.73 L374.29,355.18 L369.11,355.18 Z" fill="#111"/>
<path d="M400.00,351.13 L402.59,355.58 L397.41,355.58 Z" fill="#111"/>
<path d="M318.4,336.4 L324.1,336.4 L324.1,347.2 L359.2,347.2 L359.2,356.8 L400,356.8" fill="none" stroke="#111" stroke-width="1.4" />
<path d="M318.40,335.00 L320.92,339.32 L315.88,339.32 Z" fill="#fff" stroke="#111" stroke-width="1.00"/>
<path d="M324.10,344.90 L326.62,349.22 L321.58,349.22 Z" fill="#fff" stroke="#111" stroke-width="1.00"/>
<path d="M359.20,354.30 L361.72,358.62 L356.68,358.62 Z" fill="#fff" stroke="#111" stroke-width="1.00"/>
<path d="M400.00,354.30 L402.52,358.62 L397.48,358.62 Z" fill="#fff" stroke="#111" stroke-width="1.00"/>
<line x1="306.30" y1="313.40" x2="306.30" y2="326.00" stroke="#111" stroke-width="1.3" stroke-linecap="butt" stroke-dasharray="1.2,1.1"/>
<line x1="316.70" y1="340.40" x2="316.70" y2="366.30" stroke="#111" stroke-width="1.4" stroke-linecap="butt" stroke-dasharray="1.3,1.1"/>
<circle cx="306.30" cy="313.40" r="1.98" fill="#111"/>
<path d="M307.80,338.00 L309.90,340.10 L307.80,342.20 L305.70,340.10 Z" fill="#111"/>
<circle cx="316.70" cy="366.20" r="1.98" fill="#111"/>
<path d="M407.3,324.0 L412.7,324.0 L412.7,357.7 L407.3,357.7" fill="none" stroke="#111" stroke-width="1.4" />
<text x="416.20" y="343.20" font-size="5.0" text-anchor="middle" fill="#111" stroke="#111" stroke-width="0.18" >*</text>
<line x1="425.80" y1="289.60" x2="438.80" y2="289.60" stroke="#111" stroke-width="1.4" stroke-linecap="butt" stroke-dasharray="1,1"/>
<path d="M432.30,287.50 L434.40,289.60 L432.30,291.70 L430.20,289.60 Z" fill="#111"/>
<text x="441.50" y="291.40" font-size="5.4" text-anchor="start" fill="#111" stroke="#111" stroke-width="0.18" >Irradiation Ctr</text>
<line x1="425.80" y1="302.10" x2="438.80" y2="302.10" stroke="#111" stroke-width="1.4" stroke-linecap="butt"/>
<rect x="430.30" y="300.10" width="4.00" height="4.00" fill="#111"/>
<text x="441.50" y="303.90" font-size="5.4" text-anchor="start" fill="#111" stroke="#111" stroke-width="0.18" >TCD BM</text>
<line x1="425.80" y1="314.60" x2="438.80" y2="314.60" stroke="#111" stroke-width="1.4" stroke-linecap="butt"/>
<path d="M432.30,312.00 L435.03,316.68 L429.57,316.68 Z" fill="#111"/>
<text x="441.50" y="316.40" font-size="5.4" text-anchor="start" fill="#111" stroke="#111" stroke-width="0.18" >TCD BM + TCON</text>
<line x1="425.80" y1="328.50" x2="438.80" y2="328.50" stroke="#111" stroke-width="1.4" stroke-linecap="butt"/>
<circle cx="432.30" cy="328.50" r="2.20" fill="#111"/>
<text x="441.50" y="327.90" font-size="5.4" text-anchor="start" fill="#111" stroke="#111" stroke-width="0.18" >TCD BM +</text>
<text x="441.50" y="334.50" font-size="5.4" text-anchor="start" fill="#111" stroke="#111" stroke-width="0.18" >TCON + TREG 1:2</text>
<line x1="425.80" y1="347.00" x2="438.80" y2="347.00" stroke="#111" stroke-width="1.4" stroke-linecap="butt"/>
<path d="M432.30,344.60 L434.82,348.92 L429.78,348.92 Z" fill="#fff" stroke="#111" stroke-width="1.00"/>
<text x="441.50" y="345.70" font-size="5.4" text-anchor="start" fill="#111" stroke="#111" stroke-width="0.18" >TCD BM +</text>
<text x="441.50" y="352.30" font-size="5.4" text-anchor="start" fill="#111" stroke="#111" stroke-width="0.18" >TCON + TREG 1:10</text>
<line x1="425.80" y1="364.60" x2="438.80" y2="364.60" stroke="#111" stroke-width="1.4" stroke-linecap="butt"/>
<circle cx="432.30" cy="364.60" r="2.00" fill="#fff" stroke="#111" stroke-width="1.00"/>
<text x="441.50" y="363.40" font-size="5.4" text-anchor="start" fill="#111" stroke="#111" stroke-width="0.18" >TCD BM +</text>
<text x="441.50" y="370.00" font-size="5.4" text-anchor="start" fill="#111" stroke="#111" stroke-width="0.18" >TCON + primedTREG 1:10</text>
<g transform="translate(6.60,418.90) scale(0.97,1)"><text x="0" y="0" font-size="9.8" font-weight="bold" fill="#111" stroke="#111" stroke-width="0.15">G</text></g>
<line x1="41.80" y1="425.00" x2="41.80" y2="512.90" stroke="#111" stroke-width="1.1" stroke-linecap="butt"/>
<line x1="38.60" y1="512.00" x2="41.80" y2="512.00" stroke="#111" stroke-width="0.9900000000000001" stroke-linecap="butt"/>
<text x="36.80" y="514.10" font-size="5.8" text-anchor="end" fill="#111" stroke="#111" stroke-width="0.18" >50</text>
<line x1="38.60" y1="497.90" x2="41.80" y2="497.90" stroke="#111" stroke-width="0.9900000000000001" stroke-linecap="butt"/>
<text x="36.80" y="500.00" font-size="5.8" text-anchor="end" fill="#111" stroke="#111" stroke-width="0.18" >60</text>
<line x1="38.60" y1="483.80" x2="41.80" y2="483.80" stroke="#111" stroke-width="0.9900000000000001" stroke-linecap="butt"/>
<text x="36.80" y="485.90" font-size="5.8" text-anchor="end" fill="#111" stroke="#111" stroke-width="0.18" >70</text>
<line x1="38.60" y1="469.70" x2="41.80" y2="469.70" stroke="#111" stroke-width="0.9900000000000001" stroke-linecap="butt"/>
<text x="36.80" y="471.80" font-size="5.8" text-anchor="end" fill="#111" stroke="#111" stroke-width="0.18" >80</text>
<line x1="38.60" y1="455.60" x2="41.80" y2="455.60" stroke="#111" stroke-width="0.9900000000000001" stroke-linecap="butt"/>
<text x="36.80" y="457.70" font-size="5.8" text-anchor="end" fill="#111" stroke="#111" stroke-width="0.18" >90</text>
<line x1="38.60" y1="441.50" x2="41.80" y2="441.50" stroke="#111" stroke-width="0.9900000000000001" stroke-linecap="butt"/>
<text x="36.80" y="443.60" font-size="5.8" text-anchor="end" fill="#111" stroke="#111" stroke-width="0.18" >100</text>
<line x1="38.60" y1="427.40" x2="41.80" y2="427.40" stroke="#111" stroke-width="0.9900000000000001" stroke-linecap="butt"/>
<text x="36.80" y="429.50" font-size="5.8" text-anchor="end" fill="#111" stroke="#111" stroke-width="0.18" >110</text>
<line x1="41.30" y1="512.40" x2="178.60" y2="512.40" stroke="#111" stroke-width="1.1" stroke-linecap="butt"/>
<line x1="42.00" y1="512.40" x2="42.00" y2="515.40" stroke="#111" stroke-width="0.9900000000000001" stroke-linecap="butt"/>
<text x="42.00" y="524.00" font-size="6.2" text-anchor="middle" fill="#111" stroke="#111" stroke-width="0.18" >0</text>
<line x1="86.70" y1="512.40" x2="86.70" y2="515.40" stroke="#111" stroke-width="0.9900000000000001" stroke-linecap="butt"/>
<text x="86.70" y="524.00" font-size="6.2" text-anchor="middle" fill="#111" stroke="#111" stroke-width="0.18" >20</text>
<line x1="131.40" y1="512.40" x2="131.40" y2="515.40" stroke="#111" stroke-width="0.9900000000000001" stroke-linecap="butt"/>
<text x="131.40" y="524.00" font-size="6.2" text-anchor="middle" fill="#111" stroke="#111" stroke-width="0.18" >40</text>
<line x1="176.10" y1="512.40" x2="176.10" y2="515.40" stroke="#111" stroke-width="0.9900000000000001" stroke-linecap="butt"/>
<text x="176.10" y="524.00" font-size="6.2" text-anchor="middle" fill="#111" stroke="#111" stroke-width="0.18" >60</text>
<text x="20.20" y="469.40" font-size="8.5" text-anchor="middle" fill="#111" stroke="#111" stroke-width="0.26" textLength="64" lengthAdjust="spacingAndGlyphs" transform="rotate(-90 20.20 469.40)" >Weight variation %</text>
<text x="68.00" y="535.80" font-size="8.5" text-anchor="start" fill="#111" stroke="#111" stroke-width="0.26" textLength="86.0" lengthAdjust="spacingAndGlyphs" >Days after transplantation</text>
<line x1="48.70" y1="442.91" x2="48.70" y2="468.29" stroke="#333" stroke-width="1.0" stroke-linecap="butt"/>
<line x1="46.30" y1="442.91" x2="51.10" y2="442.91" stroke="#333" stroke-width="1.0" stroke-linecap="butt"/>
<line x1="46.30" y1="468.29" x2="51.10" y2="468.29" stroke="#333" stroke-width="1.0" stroke-linecap="butt"/>
<line x1="57.64" y1="431.63" x2="57.64" y2="488.74" stroke="#333" stroke-width="1.0" stroke-linecap="butt"/>
<line x1="55.24" y1="431.63" x2="60.04" y2="431.63" stroke="#333" stroke-width="1.0" stroke-linecap="butt"/>
<line x1="55.24" y1="488.74" x2="60.04" y2="488.74" stroke="#333" stroke-width="1.0" stroke-linecap="butt"/>
<line x1="64.35" y1="452.78" x2="64.35" y2="476.75" stroke="#333" stroke-width="1.0" stroke-linecap="butt"/>
<line x1="61.95" y1="452.78" x2="66.75" y2="452.78" stroke="#333" stroke-width="1.0" stroke-linecap="butt"/>
<line x1="61.95" y1="476.75" x2="66.75" y2="476.75" stroke="#333" stroke-width="1.0" stroke-linecap="butt"/>
<line x1="73.29" y1="445.73" x2="73.29" y2="495.08" stroke="#333" stroke-width="1.0" stroke-linecap="butt"/>
<line x1="70.89" y1="445.73" x2="75.69" y2="445.73" stroke="#333" stroke-width="1.0" stroke-linecap="butt"/>
<line x1="70.89" y1="495.08" x2="75.69" y2="495.08" stroke="#333" stroke-width="1.0" stroke-linecap="butt"/>
<line x1="88.94" y1="448.55" x2="88.94" y2="492.96" stroke="#333" stroke-width="1.0" stroke-linecap="butt"/>
<line x1="86.53" y1="448.55" x2="91.34" y2="448.55" stroke="#333" stroke-width="1.0" stroke-linecap="butt"/>
<line x1="86.53" y1="492.96" x2="91.34" y2="492.96" stroke="#333" stroke-width="1.0" stroke-linecap="butt"/>
<line x1="104.58" y1="448.55" x2="104.58" y2="486.62" stroke="#333" stroke-width="1.0" stroke-linecap="butt"/>
<line x1="102.18" y1="448.55" x2="106.98" y2="448.55" stroke="#333" stroke-width="1.0" stroke-linecap="butt"/>
<line x1="102.18" y1="486.62" x2="106.98" y2="486.62" stroke="#333" stroke-width="1.0" stroke-linecap="butt"/>
<line x1="129.16" y1="440.09" x2="129.16" y2="501.43" stroke="#333" stroke-width="1.0" stroke-linecap="butt"/>
<line x1="126.76" y1="440.09" x2="131.56" y2="440.09" stroke="#333" stroke-width="1.0" stroke-linecap="butt"/>
<line x1="126.76" y1="501.43" x2="131.56" y2="501.43" stroke="#333" stroke-width="1.0" stroke-linecap="butt"/>
<line x1="153.75" y1="440.09" x2="153.75" y2="475.34" stroke="#333" stroke-width="1.0" stroke-linecap="butt"/>
<line x1="151.35" y1="440.09" x2="156.15" y2="440.09" stroke="#333" stroke-width="1.0" stroke-linecap="butt"/>
<line x1="151.35" y1="475.34" x2="156.15" y2="475.34" stroke="#333" stroke-width="1.0" stroke-linecap="butt"/>
<line x1="55.64" y1="448.55" x2="59.64" y2="448.55" stroke="#111" stroke-width="0.8" stroke-linecap="butt"/>
<line x1="55.64" y1="452.78" x2="59.64" y2="452.78" stroke="#111" stroke-width="0.8" stroke-linecap="butt"/>
<line x1="55.64" y1="485.21" x2="59.64" y2="485.21" stroke="#111" stroke-width="0.8" stroke-linecap="butt"/>
<line x1="62.35" y1="458.42" x2="66.35" y2="458.42" stroke="#111" stroke-width="0.8" stroke-linecap="butt"/>
<line x1="62.35" y1="472.52" x2="66.35" y2="472.52" stroke="#111" stroke-width="0.8" stroke-linecap="butt"/>
<line x1="71.29" y1="469.70" x2="75.29" y2="469.70" stroke="#111" stroke-width="0.8" stroke-linecap="butt"/>
<line x1="71.29" y1="473.93" x2="75.29" y2="473.93" stroke="#111" stroke-width="0.8" stroke-linecap="butt"/>
<line x1="86.94" y1="458.42" x2="90.94" y2="458.42" stroke="#111" stroke-width="0.8" stroke-linecap="butt"/>
<line x1="86.94" y1="462.65" x2="90.94" y2="462.65" stroke="#111" stroke-width="0.8" stroke-linecap="butt"/>
<line x1="86.94" y1="469.70" x2="90.94" y2="469.70" stroke="#111" stroke-width="0.8" stroke-linecap="butt"/>
<line x1="102.58" y1="451.37" x2="106.58" y2="451.37" stroke="#111" stroke-width="0.8" stroke-linecap="butt"/>
<line x1="102.58" y1="464.06" x2="106.58" y2="464.06" stroke="#111" stroke-width="0.8" stroke-linecap="butt"/>
<line x1="102.58" y1="476.75" x2="106.58" y2="476.75" stroke="#111" stroke-width="0.8" stroke-linecap="butt"/>
<line x1="127.16" y1="451.37" x2="131.16" y2="451.37" stroke="#111" stroke-width="0.8" stroke-linecap="butt"/>
<line x1="127.16" y1="461.24" x2="131.16" y2="461.24" stroke="#111" stroke-width="0.8" stroke-linecap="butt"/>
<line x1="127.16" y1="469.70" x2="131.16" y2="469.70" stroke="#111" stroke-width="0.8" stroke-linecap="butt"/>
<line x1="127.16" y1="471.11" x2="131.16" y2="471.11" stroke="#111" stroke-width="0.8" stroke-linecap="butt"/>
<line x1="151.75" y1="448.55" x2="155.75" y2="448.55" stroke="#111" stroke-width="0.8" stroke-linecap="butt"/>
<line x1="151.75" y1="451.37" x2="155.75" y2="451.37" stroke="#111" stroke-width="0.8" stroke-linecap="butt"/>
<line x1="151.75" y1="469.70" x2="155.75" y2="469.70" stroke="#111" stroke-width="0.8" stroke-linecap="butt"/>
<line x1="151.75" y1="472.52" x2="155.75" y2="472.52" stroke="#111" stroke-width="0.8" stroke-linecap="butt"/>
<path d="M42.00,441.50 L48.70,451.37 L57.64,480.98 L64.35,468.29 L73.29,457.01 L88.94,455.60 L104.58,454.61 L129.16,455.60 L153.75,457.01" fill="none" stroke="#111" stroke-width="1.6" stroke-linejoin="round"/>
<circle cx="48.70" cy="451.37" r="2.42" fill="#111"/>
<circle cx="57.64" cy="480.98" r="2.42" fill="#111"/>
<circle cx="64.35" cy="468.29" r="2.42" fill="#111"/>
<circle cx="73.29" cy="457.01" r="2.42" fill="#111"/>
<circle cx="88.94" cy="455.60" r="2.42" fill="#111"/>
<circle cx="104.58" cy="454.61" r="2.42" fill="#111"/>
<circle cx="129.16" cy="455.60" r="2.42" fill="#111"/>
<circle cx="153.75" cy="457.01" r="2.42" fill="#111"/>
<path d="M42.00,441.50 L48.70,458.42 L57.64,482.39 L64.35,469.70 L73.29,459.83 L88.94,459.83 L104.58,454.89 L129.16,453.34 L153.75,456.02" fill="none" stroke="#111" stroke-width="1.5" stroke-dasharray="2.6,1.6" stroke-linejoin="round"/>
<rect x="46.50" y="456.22" width="4.40" height="4.40" fill="#111"/>
<rect x="55.44" y="480.19" width="4.40" height="4.40" fill="#111"/>
<rect x="62.15" y="467.50" width="4.40" height="4.40" fill="#111"/>
<rect x="71.09" y="457.63" width="4.40" height="4.40" fill="#111"/>
<rect x="86.73" y="457.63" width="4.40" height="4.40" fill="#111"/>
<rect x="102.38" y="452.69" width="4.40" height="4.40" fill="#111"/>
<rect x="126.96" y="451.14" width="4.40" height="4.40" fill="#111"/>
<rect x="151.55" y="453.82" width="4.40" height="4.40" fill="#111"/>
<path d="M42.00,441.50 L48.70,452.78 L57.64,480.98 L64.35,479.57 L73.29,478.16 L88.94,475.34 L104.58,479.57 L129.16,486.20 L153.75,466.88" fill="none" stroke="#111" stroke-width="1.4" stroke-linejoin="round"/>
<path d="M48.70,449.92 L51.71,455.07 L45.70,455.07 Z" fill="#111"/>
<path d="M57.64,478.12 L60.65,483.27 L54.64,483.27 Z" fill="#111"/>
<path d="M64.35,476.71 L67.35,481.86 L61.35,481.86 Z" fill="#111"/>
<path d="M73.29,475.30 L76.29,480.45 L70.29,480.45 Z" fill="#111"/>
<path d="M88.94,472.48 L91.94,477.63 L85.93,477.63 Z" fill="#111"/>
<path d="M104.58,476.71 L107.58,481.86 L101.58,481.86 Z" fill="#111"/>
<path d="M129.16,483.34 L132.17,488.49 L126.16,488.49 Z" fill="#111"/>
<path d="M153.75,464.02 L156.75,469.17 L150.75,469.17 Z" fill="#111"/>
<path d="M42.00,441.50 L48.70,462.65 L57.64,480.98 L64.35,469.70 L73.29,464.06 L88.94,466.88 L104.58,469.42 L129.16,473.51 L153.75,472.10" fill="none" stroke="#111" stroke-width="1.4" stroke-linejoin="round"/>
<circle cx="48.70" cy="462.65" r="2.20" fill="#fff" stroke="#111" stroke-width="1.10"/>
<circle cx="57.64" cy="480.98" r="2.20" fill="#fff" stroke="#111" stroke-width="1.10"/>
<circle cx="64.35" cy="469.70" r="2.20" fill="#fff" stroke="#111" stroke-width="1.10"/>
<circle cx="73.29" cy="464.06" r="2.20" fill="#fff" stroke="#111" stroke-width="1.10"/>
<circle cx="88.94" cy="466.88" r="2.20" fill="#fff" stroke="#111" stroke-width="1.10"/>
<circle cx="104.58" cy="469.42" r="2.20" fill="#fff" stroke="#111" stroke-width="1.10"/>
<circle cx="129.16" cy="473.51" r="2.20" fill="#fff" stroke="#111" stroke-width="1.10"/>
<circle cx="153.75" cy="472.10" r="2.20" fill="#fff" stroke="#111" stroke-width="1.10"/>
<path d="M42.00,441.50 L48.70,447.14 L57.64,480.98 L64.35,465.47 L73.29,459.83 L88.94,466.88 L104.58,457.29 L129.16,458.42 L153.75,460.68" fill="none" stroke="#111" stroke-width="1.4" stroke-linejoin="round"/>
<circle cx="48.70" cy="447.14" r="2.42" fill="#111"/>
<circle cx="57.64" cy="480.98" r="2.42" fill="#111"/>
<circle cx="64.35" cy="465.47" r="2.42" fill="#111"/>
<circle cx="73.29" cy="459.83" r="2.42" fill="#111"/>
<circle cx="88.94" cy="466.88" r="2.42" fill="#111"/>
<circle cx="104.58" cy="457.29" r="2.42" fill="#111"/>
<circle cx="129.16" cy="458.42" r="2.42" fill="#111"/>
<circle cx="153.75" cy="460.68" r="2.42" fill="#111"/>
<path d="M42.00,441.50 L48.70,448.55 L57.64,445.73 L64.35,459.83 L73.29,449.96" fill="none" stroke="#111" stroke-width="1.0" stroke-dasharray="1,1"/>
<path d="M48.70,446.66 L50.59,448.55 L48.70,450.44 L46.81,448.55 Z" fill="#111"/>
<path d="M57.64,443.84 L59.53,445.73 L57.64,447.62 L55.75,445.73 Z" fill="#111"/>
<path d="M64.35,457.94 L66.24,459.83 L64.35,461.72 L62.46,459.83 Z" fill="#111"/>
<path d="M73.29,448.07 L75.18,449.96 L73.29,451.85 L71.40,449.96 Z" fill="#111"/>
<circle cx="42.00" cy="441.50" r="2.53" fill="#111"/>
<text x="48.70" y="439.20" font-size="5.2" text-anchor="middle" fill="#222" stroke="#222" stroke-width="0.18" >ns</text>
<text x="57.64" y="428.70" font-size="5.2" text-anchor="middle" fill="#222" stroke="#222" stroke-width="0.18" >ns</text>
<text x="64.35" y="453.20" font-size="5.2" text-anchor="middle" fill="#222" stroke="#222" stroke-width="0.18" >ns</text>
<text x="73.29" y="442.70" font-size="5.2" text-anchor="middle" fill="#222" stroke="#222" stroke-width="0.18" >ns</text>
<text x="88.94" y="445.70" font-size="5.2" text-anchor="middle" fill="#222" stroke="#222" stroke-width="0.18" >ns</text>
<text x="104.58" y="447.70" font-size="5.2" text-anchor="middle" fill="#222" stroke="#222" stroke-width="0.18" >*</text>
<text x="129.16" y="439.30" font-size="5.2" text-anchor="middle" fill="#222" stroke="#222" stroke-width="0.18" >**</text>
<text x="153.75" y="438.80" font-size="5.2" text-anchor="middle" fill="#222" stroke="#222" stroke-width="0.18" >ns</text>
<g transform="translate(262.30,419.20) scale(0.97,1)"><text x="0" y="0" font-size="9.8" font-weight="bold" fill="#111" stroke="#111" stroke-width="0.15">H</text></g>
<line x1="288.60" y1="431.40" x2="288.60" y2="513.40" stroke="#111" stroke-width="1.1" stroke-linecap="butt"/>
<line x1="285.40" y1="512.90" x2="288.60" y2="512.90" stroke="#111" stroke-width="0.9900000000000001" stroke-linecap="butt"/>
<text x="282.80" y="515.00" font-size="5.8" text-anchor="end" fill="#111" stroke="#111" stroke-width="0.18" >0</text>
<line x1="285.40" y1="496.70" x2="288.60" y2="496.70" stroke="#111" stroke-width="0.9900000000000001" stroke-linecap="butt"/>
<text x="282.80" y="498.80" font-size="5.8" text-anchor="end" fill="#111" stroke="#111" stroke-width="0.18" >20</text>
<line x1="285.40" y1="480.50" x2="288.60" y2="480.50" stroke="#111" stroke-width="0.9900000000000001" stroke-linecap="butt"/>
<text x="282.80" y="482.60" font-size="5.8" text-anchor="end" fill="#111" stroke="#111" stroke-width="0.18" >40</text>
<line x1="285.40" y1="464.30" x2="288.60" y2="464.30" stroke="#111" stroke-width="0.9900000000000001" stroke-linecap="butt"/>
<text x="282.80" y="466.40" font-size="5.8" text-anchor="end" fill="#111" stroke="#111" stroke-width="0.18" >60</text>
<line x1="285.40" y1="448.10" x2="288.60" y2="448.10" stroke="#111" stroke-width="0.9900000000000001" stroke-linecap="butt"/>
<text x="282.80" y="450.20" font-size="5.8" text-anchor="end" fill="#111" stroke="#111" stroke-width="0.18" >80</text>
<line x1="285.40" y1="431.90" x2="288.60" y2="431.90" stroke="#111" stroke-width="0.9900000000000001" stroke-linecap="butt"/>
<text x="282.80" y="434.00" font-size="5.8" text-anchor="end" fill="#111" stroke="#111" stroke-width="0.18" >100</text>
<line x1="288.10" y1="512.90" x2="410.50" y2="512.90" stroke="#111" stroke-width="1.1" stroke-linecap="butt"/>
<line x1="288.60" y1="512.90" x2="288.60" y2="515.90" stroke="#111" stroke-width="0.9900000000000001" stroke-linecap="butt"/>
<text x="288.60" y="524.00" font-size="6.2" text-anchor="middle" fill="#111" stroke="#111" stroke-width="0.18" >0</text>
<line x1="312.20" y1="512.90" x2="312.20" y2="515.90" stroke="#111" stroke-width="0.9900000000000001" stroke-linecap="butt"/>
<text x="312.20" y="524.00" font-size="6.2" text-anchor="middle" fill="#111" stroke="#111" stroke-width="0.18" >20</text>
<line x1="335.80" y1="512.90" x2="335.80" y2="515.90" stroke="#111" stroke-width="0.9900000000000001" stroke-linecap="butt"/>
<text x="335.80" y="524.00" font-size="6.2" text-anchor="middle" fill="#111" stroke="#111" stroke-width="0.18" >40</text>
<line x1="359.40" y1="512.90" x2="359.40" y2="515.90" stroke="#111" stroke-width="0.9900000000000001" stroke-linecap="butt"/>
<text x="359.40" y="524.00" font-size="6.2" text-anchor="middle" fill="#111" stroke="#111" stroke-width="0.18" >60</text>
<line x1="383.00" y1="512.90" x2="383.00" y2="515.90" stroke="#111" stroke-width="0.9900000000000001" stroke-linecap="butt"/>
<text x="383.00" y="524.00" font-size="6.2" text-anchor="middle" fill="#111" stroke="#111" stroke-width="0.18" >80</text>
<line x1="406.60" y1="512.90" x2="406.60" y2="515.90" stroke="#111" stroke-width="0.9900000000000001" stroke-linecap="butt"/>
<text x="406.60" y="524.00" font-size="6.2" text-anchor="middle" fill="#111" stroke="#111" stroke-width="0.18" >100</text>
<text x="269.00" y="471.00" font-size="8.5" text-anchor="middle" fill="#111" stroke="#111" stroke-width="0.26" textLength="54" lengthAdjust="spacingAndGlyphs" transform="rotate(-90 269.00 471.00)" >Percent survival</text>
<text x="306.40" y="536.20" font-size="8.5" text-anchor="start" fill="#111" stroke="#111" stroke-width="0.26" textLength="86.8" lengthAdjust="spacingAndGlyphs" >Days after transplantation</text>
<rect x="308.40" y="412.80" width="38.20" height="10.60" fill="#fff" stroke="#222" stroke-width="1.1"/>
<text x="327.50" y="419.60" font-size="5.4" text-anchor="middle" fill="#111" stroke="#111" stroke-width="0.18" textLength="31.0" lengthAdjust="spacingAndGlyphs" >Treg injection</text>
<line x1="307.80" y1="424.00" x2="299.80" y2="428.20" stroke="#111" stroke-width="0.9" stroke-linecap="butt"/>
<path d="M296.4,430.4 L298.6,426.4 L301.0,429.6 Z" fill="#111" stroke="#111" stroke-width="0.5" />
<line x1="288.60" y1="431.90" x2="299.00" y2="431.90" stroke="#111" stroke-width="1.4" stroke-linecap="butt"/>
<line x1="299.00" y1="431.90" x2="406.60" y2="431.90" stroke="#111" stroke-width="1.2" stroke-linecap="butt" stroke-dasharray="3.4,2.2"/>
<rect x="405.50" y="429.90" width="4.00" height="4.00" fill="#111"/>
<path d="M299.1,431.9 L299.1,435.9 L327.7,435.9 L327.7,440.0 L337.9,440.0 L337.9,444.2 L359.4,444.2 L359.4,456.2 L371.2,456.2 L371.2,463.2 L379.4,463.2 L379.4,467.3 L407.5,467.3" fill="none" stroke="#111" stroke-width="1.0" />
<circle cx="299.10" cy="435.90" r="2.00" fill="#fff" stroke="#111" stroke-width="1.00"/>
<circle cx="326.40" cy="439.00" r="2.00" fill="#fff" stroke="#111" stroke-width="1.00"/>
<circle cx="337.90" cy="443.70" r="2.00" fill="#fff" stroke="#111" stroke-width="1.00"/>
<circle cx="358.40" cy="451.60" r="2.00" fill="#fff" stroke="#111" stroke-width="1.00"/>
<circle cx="359.90" cy="455.60" r="2.00" fill="#fff" stroke="#111" stroke-width="1.00"/>
<circle cx="370.80" cy="458.90" r="2.00" fill="#fff" stroke="#111" stroke-width="1.00"/>
<circle cx="374.50" cy="463.00" r="2.00" fill="#fff" stroke="#111" stroke-width="1.00"/>
<circle cx="379.40" cy="467.10" r="2.00" fill="#fff" stroke="#111" stroke-width="1.00"/>
<circle cx="407.50" cy="467.30" r="2.00" fill="#fff" stroke="#111" stroke-width="1.00"/>
<path d="M299.5,431.9 L299.5,437 L301.5,437 L301.5,452 L303.5,452 L303.5,460 L305.2,460 L305.2,464.2 L315.0,464.2 L315.0,468.0 L328.8,468.0 L328.8,476.3 L407.5,476.3" fill="none" stroke="#111" stroke-width="1.4" />
<circle cx="299.50" cy="437.50" r="2.20" fill="#111"/>
<circle cx="300.50" cy="445.00" r="2.20" fill="#111"/>
<circle cx="301.50" cy="452.00" r="2.20" fill="#111"/>
<circle cx="302.50" cy="457.00" r="2.20" fill="#111"/>
<circle cx="303.50" cy="460.00" r="2.20" fill="#111"/>
<circle cx="315.00" cy="468.00" r="2.20" fill="#111"/>
<circle cx="328.80" cy="476.30" r="2.20" fill="#111"/>
<circle cx="407.50" cy="476.30" r="2.20" fill="#111"/>
<path d="M298.5,431.9 L298.5,436 L300.5,436 L300.5,448 L302.5,448 L302.5,456 L304.5,456 L304.5,461.0 L331.5,461.0 L331.5,468.0 L337.2,468.0 L337.2,476.3 L338.5,476.3 L338.5,480.5 L340.0,480.5 L340.0,484.6 L341.4,484.6 L341.4,488.7 L345.7,488.7 L345.7,492.6 L354.1,492.6 L354.1,496.7 L391.8,496.7 L391.8,500.5 L407.5,500.5" fill="none" stroke="#111" stroke-width="1.4" />
<path d="M298.50,427.03 L301.09,431.48 L295.91,431.48 Z" fill="#111"/>
<path d="M300.50,441.53 L303.09,445.98 L297.91,445.98 Z" fill="#111"/>
<path d="M302.50,449.53 L305.09,453.98 L299.91,453.98 Z" fill="#111"/>
<path d="M304.50,458.03 L307.09,462.48 L301.91,462.48 Z" fill="#111"/>
<path d="M315.50,461.73 L318.09,466.18 L312.91,466.18 Z" fill="#111"/>
<path d="M331.50,465.53 L334.09,469.98 L328.91,469.98 Z" fill="#111"/>
<path d="M337.20,473.83 L339.79,478.28 L334.61,478.28 Z" fill="#111"/>
<path d="M338.50,478.03 L341.09,482.48 L335.91,482.48 Z" fill="#111"/>
<path d="M340.00,482.13 L342.59,486.58 L337.41,486.58 Z" fill="#111"/>
<path d="M341.40,486.23 L343.99,490.68 L338.81,490.68 Z" fill="#111"/>
<path d="M345.70,490.13 L348.29,494.58 L343.11,494.58 Z" fill="#111"/>
<path d="M354.10,494.23 L356.69,498.68 L351.51,498.68 Z" fill="#111"/>
<path d="M391.80,497.83 L394.39,502.28 L389.21,502.28 Z" fill="#111"/>
<path d="M407.50,497.83 L410.09,502.28 L404.91,502.28 Z" fill="#111"/>
<path d="M299.5,432 L299.5,440 L301,440 L301,449 L304,449 L304,458 L306.1,458 L306.1,468 L310.8,468 L310.8,476.9 L313.5,476.9 L313.5,485 L316,485 L316,490.7 L318.2,490.7 L318.2,497.7 L319.9,497.7 L319.9,512.9" fill="none" stroke="#111" stroke-width="1.3" stroke-dasharray="1.2,1.1"/>
<path d="M306.10,466.00 L308.10,468.00 L306.10,470.00 L304.11,468.00 Z" fill="#111"/>
<path d="M310.80,474.90 L312.80,476.90 L310.80,478.89 L308.81,476.90 Z" fill="#111"/>
<path d="M313.50,483.00 L315.50,485.00 L313.50,487.00 L311.50,485.00 Z" fill="#111"/>
<path d="M316.00,488.70 L318.00,490.70 L316.00,492.69 L314.00,490.70 Z" fill="#111"/>
<path d="M318.20,495.70 L320.19,497.70 L318.20,499.69 L316.20,497.70 Z" fill="#111"/>
<path d="M319.90,510.90 L321.89,512.90 L319.90,514.89 L317.90,512.90 Z" fill="#111"/>
<circle cx="319.90" cy="512.90" r="1.98" fill="#111"/>
<path d="M414.9,467.8 L421.3,467.8 L421.3,499.7 L414.9,499.7" fill="none" stroke="#222" stroke-width="0.9" />
<line x1="414.90" y1="475.70" x2="421.30" y2="475.70" stroke="#111" stroke-width="0.9" stroke-linecap="butt"/>
<path d="M430.3,467.8 L437.0,467.8 L437.0,499.7 L430.3,499.7" fill="none" stroke="#222" stroke-width="0.9" />
<text x="424.30" y="471.80" font-size="4.6" text-anchor="middle" fill="#111" stroke="#111" stroke-width="0.18" transform="rotate(90 424.30 471.80)" >ns</text>
<text x="424.30" y="487.20" font-size="4.6" text-anchor="middle" fill="#111" stroke="#111" stroke-width="0.18" transform="rotate(90 424.30 487.20)" >ns</text>
<text x="440.00" y="483.80" font-size="4.8" text-anchor="middle" fill="#111" stroke="#111" stroke-width="0.18" transform="rotate(90 440.00 483.80)" >***</text>
<line x1="451.50" y1="434.20" x2="463.10" y2="434.20" stroke="#111" stroke-width="1.4" stroke-linecap="butt" stroke-dasharray="1,1"/>
<path d="M457.30,432.10 L459.40,434.20 L457.30,436.30 L455.20,434.20 Z" fill="#111"/>
<text x="466.20" y="436.00" font-size="5.4" text-anchor="start" fill="#111" stroke="#111" stroke-width="0.18" >Irradiation Ctr</text>
<line x1="451.50" y1="445.80" x2="463.10" y2="445.80" stroke="#111" stroke-width="1.4" stroke-linecap="butt"/>
<rect x="455.30" y="443.80" width="4.00" height="4.00" fill="#111"/>
<text x="466.20" y="447.60" font-size="5.4" text-anchor="start" fill="#111" stroke="#111" stroke-width="0.18" >TCD BM</text>
<line x1="451.50" y1="456.90" x2="463.10" y2="456.90" stroke="#111" stroke-width="1.4" stroke-linecap="butt"/>
<path d="M457.30,454.30 L460.03,458.98 L454.57,458.98 Z" fill="#111"/>
<text x="466.20" y="458.70" font-size="5.4" text-anchor="start" fill="#111" stroke="#111" stroke-width="0.18" >TCD BM + TCON</text>
<line x1="451.50" y1="470.50" x2="463.10" y2="470.50" stroke="#111" stroke-width="1.4" stroke-linecap="butt"/>
<circle cx="457.30" cy="470.50" r="2.20" fill="#111"/>
<text x="466.20" y="470.30" font-size="5.4" text-anchor="start" fill="#111" stroke="#111" stroke-width="0.18" >TCD BM + TCON +</text>
<text x="466.20" y="476.50" font-size="5.4" text-anchor="start" fill="#111" stroke="#111" stroke-width="0.18" >TREG</text>
<line x1="451.50" y1="488.50" x2="463.10" y2="488.50" stroke="#111" stroke-width="1.4" stroke-linecap="butt"/>
<circle cx="457.30" cy="488.50" r="2.00" fill="#fff" stroke="#111" stroke-width="1.00"/>
<text x="466.20" y="488.00" font-size="5.4" text-anchor="start" fill="#111" stroke="#111" stroke-width="0.18" >TCD BM + TCON +</text>
<text x="466.20" y="494.20" font-size="5.4" text-anchor="start" fill="#111" stroke="#111" stroke-width="0.18" >primedTREG</text>
<rect x="7.2" y="552.2" width="2.0" height="7.3" fill="#111"/>
<line x1="42.20" y1="568.00" x2="42.20" y2="663.40" stroke="#111" stroke-width="1.1" stroke-linecap="butt"/>
<line x1="38.80" y1="650.24" x2="42.20" y2="650.24" stroke="#111" stroke-width="1.0" stroke-linecap="butt"/>
<text x="36.00" y="652.34" font-size="5.8" text-anchor="end" fill="#111" stroke="#111" stroke-width="0.18" >60</text>
<line x1="38.80" y1="623.92" x2="42.20" y2="623.92" stroke="#111" stroke-width="1.0" stroke-linecap="butt"/>
<text x="36.00" y="626.02" font-size="5.8" text-anchor="end" fill="#111" stroke="#111" stroke-width="0.18" >80</text>
<line x1="38.80" y1="597.60" x2="42.20" y2="597.60" stroke="#111" stroke-width="1.0" stroke-linecap="butt"/>
<text x="36.00" y="599.70" font-size="5.8" text-anchor="end" fill="#111" stroke="#111" stroke-width="0.18" >100</text>
<line x1="38.80" y1="571.28" x2="42.20" y2="571.28" stroke="#111" stroke-width="1.0" stroke-linecap="butt"/>
<text x="36.00" y="573.38" font-size="5.8" text-anchor="end" fill="#111" stroke="#111" stroke-width="0.18" >120</text>
<line x1="41.70" y1="663.40" x2="176.00" y2="663.40" stroke="#111" stroke-width="1.1" stroke-linecap="butt"/>
<line x1="42.20" y1="663.40" x2="42.20" y2="666.40" stroke="#111" stroke-width="0.9900000000000001" stroke-linecap="butt"/>
<text x="42.20" y="675.00" font-size="6.2" text-anchor="middle" fill="#111" stroke="#111" stroke-width="0.18" >0</text>
<line x1="75.20" y1="663.40" x2="75.20" y2="666.40" stroke="#111" stroke-width="0.9900000000000001" stroke-linecap="butt"/>
<text x="75.20" y="675.00" font-size="6.2" text-anchor="middle" fill="#111" stroke="#111" stroke-width="0.18" >20</text>
<line x1="108.20" y1="663.40" x2="108.20" y2="666.40" stroke="#111" stroke-width="0.9900000000000001" stroke-linecap="butt"/>
<text x="108.20" y="675.00" font-size="6.2" text-anchor="middle" fill="#111" stroke="#111" stroke-width="0.18" >40</text>
<line x1="141.20" y1="663.40" x2="141.20" y2="666.40" stroke="#111" stroke-width="0.9900000000000001" stroke-linecap="butt"/>
<text x="141.20" y="675.00" font-size="6.2" text-anchor="middle" fill="#111" stroke="#111" stroke-width="0.18" >60</text>
<line x1="174.20" y1="663.40" x2="174.20" y2="666.40" stroke="#111" stroke-width="0.9900000000000001" stroke-linecap="butt"/>
<text x="174.20" y="675.00" font-size="6.2" text-anchor="middle" fill="#111" stroke="#111" stroke-width="0.18" >80</text>
<text x="20.30" y="616.60" font-size="8.5" text-anchor="middle" fill="#111" stroke="#111" stroke-width="0.26" textLength="65.5" lengthAdjust="spacingAndGlyphs" transform="rotate(-90 20.30 616.60)" >Weight variation %</text>
<text x="66.40" y="684.80" font-size="8.5" text-anchor="start" fill="#111" stroke="#111" stroke-width="0.26" textLength="86.2" lengthAdjust="spacingAndGlyphs" >Days after transplantation</text>
<rect x="56.60" y="567.90" width="38.90" height="10.60" fill="#fff" stroke="#222" stroke-width="1.1"/>
<text x="76.50" y="575.00" font-size="5.4" text-anchor="middle" fill="#111" stroke="#111" stroke-width="0.18" textLength="31.4" lengthAdjust="spacingAndGlyphs" >Treg injection</text>
<line x1="63.30" y1="578.60" x2="56.40" y2="589.40" stroke="#111" stroke-width="1.0" stroke-linecap="butt"/>
<path d="M54.4,592.6 L54.6,587.6 L58.4,590.0 Z" fill="#111" stroke="#111" stroke-width="0.5" />
<text x="147.50" y="574.20" font-size="4.8" text-anchor="start" fill="#111" stroke="#111" stroke-width="0.18" textLength="16.2" lengthAdjust="spacingAndGlyphs" >all = ns</text>
<line x1="47.15" y1="608.13" x2="47.15" y2="618.66" stroke="#444" stroke-width="0.9" stroke-linecap="butt"/>
<line x1="44.95" y1="608.13" x2="49.35" y2="608.13" stroke="#444" stroke-width="0.9" stroke-linecap="butt"/>
<line x1="44.95" y1="618.66" x2="49.35" y2="618.66" stroke="#444" stroke-width="0.9" stroke-linecap="butt"/>
<line x1="50.45" y1="606.81" x2="50.45" y2="621.29" stroke="#444" stroke-width="0.9" stroke-linecap="butt"/>
<line x1="48.25" y1="606.81" x2="52.65" y2="606.81" stroke="#444" stroke-width="0.9" stroke-linecap="butt"/>
<line x1="48.25" y1="621.29" x2="52.65" y2="621.29" stroke="#444" stroke-width="0.9" stroke-linecap="butt"/>
<line x1="53.75" y1="602.86" x2="53.75" y2="644.98" stroke="#444" stroke-width="0.9" stroke-linecap="butt"/>
<line x1="51.55" y1="602.86" x2="55.95" y2="602.86" stroke="#444" stroke-width="0.9" stroke-linecap="butt"/>
<line x1="51.55" y1="644.98" x2="55.95" y2="644.98" stroke="#444" stroke-width="0.9" stroke-linecap="butt"/>
<line x1="57.05" y1="604.18" x2="57.05" y2="647.61" stroke="#444" stroke-width="0.9" stroke-linecap="butt"/>
<line x1="54.85" y1="604.18" x2="59.25" y2="604.18" stroke="#444" stroke-width="0.9" stroke-linecap="butt"/>
<line x1="54.85" y1="647.61" x2="59.25" y2="647.61" stroke="#444" stroke-width="0.9" stroke-linecap="butt"/>
<line x1="60.35" y1="602.86" x2="60.35" y2="643.66" stroke="#444" stroke-width="0.9" stroke-linecap="butt"/>
<line x1="58.15" y1="602.86" x2="62.55" y2="602.86" stroke="#444" stroke-width="0.9" stroke-linecap="butt"/>
<line x1="58.15" y1="643.66" x2="62.55" y2="643.66" stroke="#444" stroke-width="0.9" stroke-linecap="butt"/>
<line x1="65.30" y1="594.97" x2="65.30" y2="644.98" stroke="#444" stroke-width="0.9" stroke-linecap="butt"/>
<line x1="63.10" y1="594.97" x2="67.50" y2="594.97" stroke="#444" stroke-width="0.9" stroke-linecap="butt"/>
<line x1="63.10" y1="644.98" x2="67.50" y2="644.98" stroke="#444" stroke-width="0.9" stroke-linecap="butt"/>
<line x1="63.30" y1="610.76" x2="67.30" y2="610.76" stroke="#555" stroke-width="0.8" stroke-linecap="butt"/>
<line x1="63.30" y1="623.92" x2="67.30" y2="623.92" stroke="#555" stroke-width="0.8" stroke-linecap="butt"/>
<line x1="63.30" y1="613.39" x2="67.30" y2="613.39" stroke="#555" stroke-width="0.8" stroke-linecap="butt"/>
<line x1="70.25" y1="596.28" x2="70.25" y2="646.29" stroke="#444" stroke-width="0.9" stroke-linecap="butt"/>
<line x1="68.05" y1="596.28" x2="72.45" y2="596.28" stroke="#444" stroke-width="0.9" stroke-linecap="butt"/>
<line x1="68.05" y1="646.29" x2="72.45" y2="646.29" stroke="#444" stroke-width="0.9" stroke-linecap="butt"/>
<line x1="68.25" y1="612.08" x2="72.25" y2="612.08" stroke="#555" stroke-width="0.8" stroke-linecap="butt"/>
<line x1="68.25" y1="625.24" x2="72.25" y2="625.24" stroke="#555" stroke-width="0.8" stroke-linecap="butt"/>
<line x1="68.25" y1="614.71" x2="72.25" y2="614.71" stroke="#555" stroke-width="0.8" stroke-linecap="butt"/>
<line x1="73.55" y1="597.60" x2="73.55" y2="643.66" stroke="#444" stroke-width="0.9" stroke-linecap="butt"/>
<line x1="71.35" y1="597.60" x2="75.75" y2="597.60" stroke="#444" stroke-width="0.9" stroke-linecap="butt"/>
<line x1="71.35" y1="643.66" x2="75.75" y2="643.66" stroke="#444" stroke-width="0.9" stroke-linecap="butt"/>
<line x1="71.55" y1="613.39" x2="75.55" y2="613.39" stroke="#555" stroke-width="0.8" stroke-linecap="butt"/>
<line x1="71.55" y1="621.29" x2="75.55" y2="621.29" stroke="#555" stroke-width="0.8" stroke-linecap="butt"/>
<line x1="71.55" y1="616.02" x2="75.55" y2="616.02" stroke="#555" stroke-width="0.8" stroke-linecap="butt"/>
<line x1="78.50" y1="598.92" x2="78.50" y2="659.45" stroke="#444" stroke-width="0.9" stroke-linecap="butt"/>
<line x1="76.30" y1="598.92" x2="80.70" y2="598.92" stroke="#444" stroke-width="0.9" stroke-linecap="butt"/>
<line x1="76.30" y1="659.45" x2="80.70" y2="659.45" stroke="#444" stroke-width="0.9" stroke-linecap="butt"/>
<line x1="76.50" y1="614.71" x2="80.50" y2="614.71" stroke="#555" stroke-width="0.8" stroke-linecap="butt"/>
<line x1="76.50" y1="621.29" x2="80.50" y2="621.29" stroke="#555" stroke-width="0.8" stroke-linecap="butt"/>
<line x1="76.50" y1="618.66" x2="80.50" y2="618.66" stroke="#555" stroke-width="0.8" stroke-linecap="butt"/>
<line x1="85.10" y1="597.60" x2="85.10" y2="642.34" stroke="#444" stroke-width="0.9" stroke-linecap="butt"/>
<line x1="82.90" y1="597.60" x2="87.30" y2="597.60" stroke="#444" stroke-width="0.9" stroke-linecap="butt"/>
<line x1="82.90" y1="642.34" x2="87.30" y2="642.34" stroke="#444" stroke-width="0.9" stroke-linecap="butt"/>
<line x1="83.10" y1="613.39" x2="87.10" y2="613.39" stroke="#555" stroke-width="0.8" stroke-linecap="butt"/>
<line x1="83.10" y1="619.97" x2="87.10" y2="619.97" stroke="#555" stroke-width="0.8" stroke-linecap="butt"/>
<line x1="83.10" y1="615.37" x2="87.10" y2="615.37" stroke="#555" stroke-width="0.8" stroke-linecap="butt"/>
<line x1="90.05" y1="594.97" x2="90.05" y2="639.71" stroke="#444" stroke-width="0.9" stroke-linecap="butt"/>
<line x1="87.85" y1="594.97" x2="92.25" y2="594.97" stroke="#444" stroke-width="0.9" stroke-linecap="butt"/>
<line x1="87.85" y1="639.71" x2="92.25" y2="639.71" stroke="#444" stroke-width="0.9" stroke-linecap="butt"/>
<line x1="88.05" y1="610.76" x2="92.05" y2="610.76" stroke="#555" stroke-width="0.8" stroke-linecap="butt"/>
<line x1="88.05" y1="621.29" x2="92.05" y2="621.29" stroke="#555" stroke-width="0.8" stroke-linecap="butt"/>
<line x1="88.05" y1="617.34" x2="92.05" y2="617.34" stroke="#555" stroke-width="0.8" stroke-linecap="butt"/>
<line x1="96.65" y1="596.28" x2="96.65" y2="642.34" stroke="#444" stroke-width="0.9" stroke-linecap="butt"/>
<line x1="94.45" y1="596.28" x2="98.85" y2="596.28" stroke="#444" stroke-width="0.9" stroke-linecap="butt"/>
<line x1="94.45" y1="642.34" x2="98.85" y2="642.34" stroke="#444" stroke-width="0.9" stroke-linecap="butt"/>
<line x1="94.65" y1="612.08" x2="98.65" y2="612.08" stroke="#555" stroke-width="0.8" stroke-linecap="butt"/>
<line x1="94.65" y1="619.97" x2="98.65" y2="619.97" stroke="#555" stroke-width="0.8" stroke-linecap="butt"/>
<line x1="94.65" y1="619.97" x2="98.65" y2="619.97" stroke="#555" stroke-width="0.8" stroke-linecap="butt"/>
<line x1="106.55" y1="594.97" x2="106.55" y2="643.66" stroke="#444" stroke-width="0.9" stroke-linecap="butt"/>
<line x1="104.35" y1="594.97" x2="108.75" y2="594.97" stroke="#444" stroke-width="0.9" stroke-linecap="butt"/>
<line x1="104.35" y1="643.66" x2="108.75" y2="643.66" stroke="#444" stroke-width="0.9" stroke-linecap="butt"/>
<line x1="104.55" y1="610.76" x2="108.55" y2="610.76" stroke="#555" stroke-width="0.8" stroke-linecap="butt"/>
<line x1="104.55" y1="619.97" x2="108.55" y2="619.97" stroke="#555" stroke-width="0.8" stroke-linecap="butt"/>
<line x1="104.55" y1="619.97" x2="108.55" y2="619.97" stroke="#555" stroke-width="0.8" stroke-linecap="butt"/>
<line x1="111.50" y1="594.97" x2="111.50" y2="647.61" stroke="#444" stroke-width="0.9" stroke-linecap="butt"/>
<line x1="109.30" y1="594.97" x2="113.70" y2="594.97" stroke="#444" stroke-width="0.9" stroke-linecap="butt"/>
<line x1="109.30" y1="647.61" x2="113.70" y2="647.61" stroke="#444" stroke-width="0.9" stroke-linecap="butt"/>
<line x1="109.50" y1="610.76" x2="113.50" y2="610.76" stroke="#555" stroke-width="0.8" stroke-linecap="butt"/>
<line x1="109.50" y1="625.24" x2="113.50" y2="625.24" stroke="#555" stroke-width="0.8" stroke-linecap="butt"/>
<line x1="109.50" y1="618.66" x2="113.50" y2="618.66" stroke="#555" stroke-width="0.8" stroke-linecap="butt"/>
<line x1="118.10" y1="592.34" x2="118.10" y2="644.98" stroke="#444" stroke-width="0.9" stroke-linecap="butt"/>
<line x1="115.90" y1="592.34" x2="120.30" y2="592.34" stroke="#444" stroke-width="0.9" stroke-linecap="butt"/>
<line x1="115.90" y1="644.98" x2="120.30" y2="644.98" stroke="#444" stroke-width="0.9" stroke-linecap="butt"/>
<line x1="116.10" y1="608.13" x2="120.10" y2="608.13" stroke="#555" stroke-width="0.8" stroke-linecap="butt"/>
<line x1="116.10" y1="621.29" x2="120.10" y2="621.29" stroke="#555" stroke-width="0.8" stroke-linecap="butt"/>
<line x1="116.10" y1="617.34" x2="120.10" y2="617.34" stroke="#555" stroke-width="0.8" stroke-linecap="butt"/>
<line x1="128.00" y1="589.70" x2="128.00" y2="644.98" stroke="#444" stroke-width="0.9" stroke-linecap="butt"/>
<line x1="125.80" y1="589.70" x2="130.20" y2="589.70" stroke="#444" stroke-width="0.9" stroke-linecap="butt"/>
<line x1="125.80" y1="644.98" x2="130.20" y2="644.98" stroke="#444" stroke-width="0.9" stroke-linecap="butt"/>
<line x1="126.00" y1="605.50" x2="130.00" y2="605.50" stroke="#555" stroke-width="0.8" stroke-linecap="butt"/>
<line x1="126.00" y1="623.92" x2="130.00" y2="623.92" stroke="#555" stroke-width="0.8" stroke-linecap="butt"/>
<line x1="126.00" y1="613.39" x2="130.00" y2="613.39" stroke="#555" stroke-width="0.8" stroke-linecap="butt"/>
<line x1="144.50" y1="587.07" x2="144.50" y2="643.66" stroke="#444" stroke-width="0.9" stroke-linecap="butt"/>
<line x1="142.30" y1="587.07" x2="146.70" y2="587.07" stroke="#444" stroke-width="0.9" stroke-linecap="butt"/>
<line x1="142.30" y1="643.66" x2="146.70" y2="643.66" stroke="#444" stroke-width="0.9" stroke-linecap="butt"/>
<line x1="142.50" y1="602.86" x2="146.50" y2="602.86" stroke="#555" stroke-width="0.8" stroke-linecap="butt"/>
<line x1="142.50" y1="622.60" x2="146.50" y2="622.60" stroke="#555" stroke-width="0.8" stroke-linecap="butt"/>
<line x1="142.50" y1="612.08" x2="146.50" y2="612.08" stroke="#555" stroke-width="0.8" stroke-linecap="butt"/>
<path d="M42.20,597.60 L47.15,613.39 L50.45,616.02 L53.75,639.71 L57.05,642.34 L60.35,638.40 L65.30,633.13 L70.25,634.45 L73.55,631.82 L78.50,629.18 L85.10,630.50 L90.05,627.87 L96.65,630.50 L106.55,631.82 L111.50,635.76 L118.10,633.13 L128.00,633.13 L144.50,631.82" fill="none" stroke="#111" stroke-width="1.4" stroke-linejoin="round"/>
<path d="M47.15,610.53 L50.15,615.68 L44.15,615.68 Z" fill="#111"/>
<path d="M50.45,613.16 L53.45,618.31 L47.45,618.31 Z" fill="#111"/>
<path d="M53.75,636.85 L56.75,642.00 L50.75,642.00 Z" fill="#111"/>
<path d="M57.05,639.48 L60.05,644.63 L54.05,644.63 Z" fill="#111"/>
<path d="M60.35,635.54 L63.35,640.68 L57.35,640.68 Z" fill="#111"/>
<path d="M65.30,630.27 L68.30,635.42 L62.30,635.42 Z" fill="#111"/>
<path d="M70.25,631.59 L73.25,636.74 L67.25,636.74 Z" fill="#111"/>
<path d="M73.55,628.96 L76.55,634.10 L70.55,634.10 Z" fill="#111"/>
<path d="M78.50,626.32 L81.50,631.47 L75.50,631.47 Z" fill="#111"/>
<path d="M85.10,627.64 L88.10,632.79 L82.10,632.79 Z" fill="#111"/>
<path d="M90.05,625.01 L93.05,630.16 L87.05,630.16 Z" fill="#111"/>
<path d="M96.65,627.64 L99.65,632.79 L93.65,632.79 Z" fill="#111"/>
<path d="M106.55,628.96 L109.55,634.10 L103.55,634.10 Z" fill="#111"/>
<path d="M111.50,632.90 L114.50,638.05 L108.50,638.05 Z" fill="#111"/>
<path d="M118.10,630.27 L121.10,635.42 L115.10,635.42 Z" fill="#111"/>
<path d="M128.00,630.27 L131.00,635.42 L125.00,635.42 Z" fill="#111"/>
<path d="M144.50,628.96 L147.50,634.10 L141.50,634.10 Z" fill="#111"/>
<path d="M42.20,597.60 L47.15,610.76 L50.45,614.71 L53.75,634.45 L57.05,641.03 L60.35,637.08 L65.30,631.82 L70.25,633.13 L73.55,629.18 L78.50,629.18 L85.10,627.87 L90.05,629.18 L96.65,627.87 L106.55,627.87 L111.50,633.13 L118.10,629.18 L128.00,631.82 L144.50,630.50" fill="none" stroke="#111" stroke-width="1.4" stroke-linejoin="round"/>
<circle cx="47.15" cy="610.76" r="2.20" fill="#fff" stroke="#111" stroke-width="1.10"/>
<circle cx="50.45" cy="614.71" r="2.20" fill="#fff" stroke="#111" stroke-width="1.10"/>
<circle cx="53.75" cy="634.45" r="2.20" fill="#fff" stroke="#111" stroke-width="1.10"/>
<circle cx="57.05" cy="641.03" r="2.20" fill="#fff" stroke="#111" stroke-width="1.10"/>
<circle cx="60.35" cy="637.08" r="2.20" fill="#fff" stroke="#111" stroke-width="1.10"/>
<circle cx="65.30" cy="631.82" r="2.20" fill="#fff" stroke="#111" stroke-width="1.10"/>
<circle cx="70.25" cy="633.13" r="2.20" fill="#fff" stroke="#111" stroke-width="1.10"/>
<circle cx="73.55" cy="629.18" r="2.20" fill="#fff" stroke="#111" stroke-width="1.10"/>
<circle cx="78.50" cy="629.18" r="2.20" fill="#fff" stroke="#111" stroke-width="1.10"/>
<circle cx="85.10" cy="627.87" r="2.20" fill="#fff" stroke="#111" stroke-width="1.10"/>
<circle cx="90.05" cy="629.18" r="2.20" fill="#fff" stroke="#111" stroke-width="1.10"/>
<circle cx="96.65" cy="627.87" r="2.20" fill="#fff" stroke="#111" stroke-width="1.10"/>
<circle cx="106.55" cy="627.87" r="2.20" fill="#fff" stroke="#111" stroke-width="1.10"/>
<circle cx="111.50" cy="633.13" r="2.20" fill="#fff" stroke="#111" stroke-width="1.10"/>
<circle cx="118.10" cy="629.18" r="2.20" fill="#fff" stroke="#111" stroke-width="1.10"/>
<circle cx="128.00" cy="631.82" r="2.20" fill="#fff" stroke="#111" stroke-width="1.10"/>
<circle cx="144.50" cy="630.50" r="2.20" fill="#fff" stroke="#111" stroke-width="1.10"/>
<path d="M42.20,597.60 L47.15,612.08 L50.45,613.39 L53.75,637.08 L57.05,639.71 L60.35,637.08 L65.30,629.18 L70.25,627.87 L73.55,630.50 L78.50,647.61 L85.10,626.55 L90.05,627.87 L96.65,629.18 L106.55,629.18 L111.50,631.82 L118.10,630.50 L128.00,630.50 L144.50,629.18" fill="none" stroke="#111" stroke-width="1.4" stroke-linejoin="round"/>
<circle cx="47.15" cy="612.08" r="2.42" fill="#111"/>
<circle cx="50.45" cy="613.39" r="2.42" fill="#111"/>
<circle cx="53.75" cy="637.08" r="2.42" fill="#111"/>
<circle cx="57.05" cy="639.71" r="2.42" fill="#111"/>
<circle cx="60.35" cy="637.08" r="2.42" fill="#111"/>
<circle cx="65.30" cy="629.18" r="2.42" fill="#111"/>
<circle cx="70.25" cy="627.87" r="2.42" fill="#111"/>
<circle cx="73.55" cy="630.50" r="2.42" fill="#111"/>
<circle cx="78.50" cy="647.61" r="2.42" fill="#111"/>
<circle cx="85.10" cy="626.55" r="2.42" fill="#111"/>
<circle cx="90.05" cy="627.87" r="2.42" fill="#111"/>
<circle cx="96.65" cy="629.18" r="2.42" fill="#111"/>
<circle cx="106.55" cy="629.18" r="2.42" fill="#111"/>
<circle cx="111.50" cy="631.82" r="2.42" fill="#111"/>
<circle cx="118.10" cy="630.50" r="2.42" fill="#111"/>
<circle cx="128.00" cy="630.50" r="2.42" fill="#111"/>
<circle cx="144.50" cy="629.18" r="2.42" fill="#111"/>
<path d="M42.20,597.60 L47.15,610.76 L50.45,613.39 L53.75,616.02 L57.05,617.34 L60.35,618.00 L65.30,618.66 L70.25,619.97 L73.55,621.29 L78.50,623.92 L85.10,620.63 L90.05,622.60 L96.65,625.24 L106.55,625.24 L111.50,623.92 L118.10,622.60 L128.00,618.66 L144.50,617.34" fill="none" stroke="#111" stroke-width="1.5" stroke-linejoin="round"/>
<circle cx="47.15" cy="610.76" r="2.42" fill="#111"/>
<circle cx="50.45" cy="613.39" r="2.42" fill="#111"/>
<circle cx="53.75" cy="616.02" r="2.42" fill="#111"/>
<circle cx="57.05" cy="617.34" r="2.42" fill="#111"/>
<circle cx="60.35" cy="618.00" r="2.42" fill="#111"/>
<circle cx="65.30" cy="618.66" r="2.42" fill="#111"/>
<circle cx="70.25" cy="619.97" r="2.42" fill="#111"/>
<circle cx="73.55" cy="621.29" r="2.42" fill="#111"/>
<circle cx="78.50" cy="623.92" r="2.42" fill="#111"/>
<circle cx="85.10" cy="620.63" r="2.42" fill="#111"/>
<circle cx="90.05" cy="622.60" r="2.42" fill="#111"/>
<circle cx="96.65" cy="625.24" r="2.42" fill="#111"/>
<circle cx="106.55" cy="625.24" r="2.42" fill="#111"/>
<circle cx="111.50" cy="623.92" r="2.42" fill="#111"/>
<circle cx="118.10" cy="622.60" r="2.42" fill="#111"/>
<circle cx="128.00" cy="618.66" r="2.42" fill="#111"/>
<circle cx="144.50" cy="617.34" r="2.42" fill="#111"/>
<path d="M42.20,597.60 L47.15,613.39 L50.45,612.08 L53.75,608.13 L57.05,609.44 L60.35,608.13 L65.30,604.18 L70.25,605.50 L73.55,606.81 L78.50,608.13 L85.10,606.81 L90.05,604.18 L96.65,605.50 L106.55,604.18 L111.50,604.18 L118.10,601.55 L128.00,598.92 L144.50,596.28" fill="none" stroke="#111" stroke-width="1.5" stroke-dasharray="3.0,1.8" stroke-linejoin="round"/>
<rect x="44.95" y="611.19" width="4.40" height="4.40" fill="#111"/>
<rect x="48.25" y="609.88" width="4.40" height="4.40" fill="#111"/>
<rect x="51.55" y="605.93" width="4.40" height="4.40" fill="#111"/>
<rect x="54.85" y="607.24" width="4.40" height="4.40" fill="#111"/>
<rect x="58.15" y="605.93" width="4.40" height="4.40" fill="#111"/>
<rect x="63.10" y="601.98" width="4.40" height="4.40" fill="#111"/>
<rect x="68.05" y="603.30" width="4.40" height="4.40" fill="#111"/>
<rect x="71.35" y="604.61" width="4.40" height="4.40" fill="#111"/>
<rect x="76.30" y="605.93" width="4.40" height="4.40" fill="#111"/>
<rect x="82.90" y="604.61" width="4.40" height="4.40" fill="#111"/>
<rect x="87.85" y="601.98" width="4.40" height="4.40" fill="#111"/>
<rect x="94.45" y="603.30" width="4.40" height="4.40" fill="#111"/>
<rect x="104.35" y="601.98" width="4.40" height="4.40" fill="#111"/>
<rect x="109.30" y="601.98" width="4.40" height="4.40" fill="#111"/>
<rect x="115.90" y="599.35" width="4.40" height="4.40" fill="#111"/>
<rect x="125.80" y="596.72" width="4.40" height="4.40" fill="#111"/>
<rect x="142.30" y="594.08" width="4.40" height="4.40" fill="#111"/>
<path d="M42.20,597.60 L47.15,613.39 L50.45,616.02 L53.75,637.08 L57.05,642.34 L65.30,637.08 L70.25,643.66 L73.55,650.24 L78.50,659.45" fill="none" stroke="#111" stroke-width="1.4" stroke-dasharray="1.2,1.4"/>
<path d="M73.55,648.14 L75.65,650.24 L73.55,652.34 L71.45,650.24 Z" fill="#111"/>
<path d="M78.50,657.35 L80.60,659.45 L78.50,661.55 L76.40,659.45 Z" fill="#111"/>
<circle cx="42.20" cy="597.60" r="2.64" fill="#111"/>
<rect x="0.50" y="0.50" width="519.00" height="693.00" fill="none" stroke="#111" stroke-width="1.3"/>
</svg>
</body></html>
